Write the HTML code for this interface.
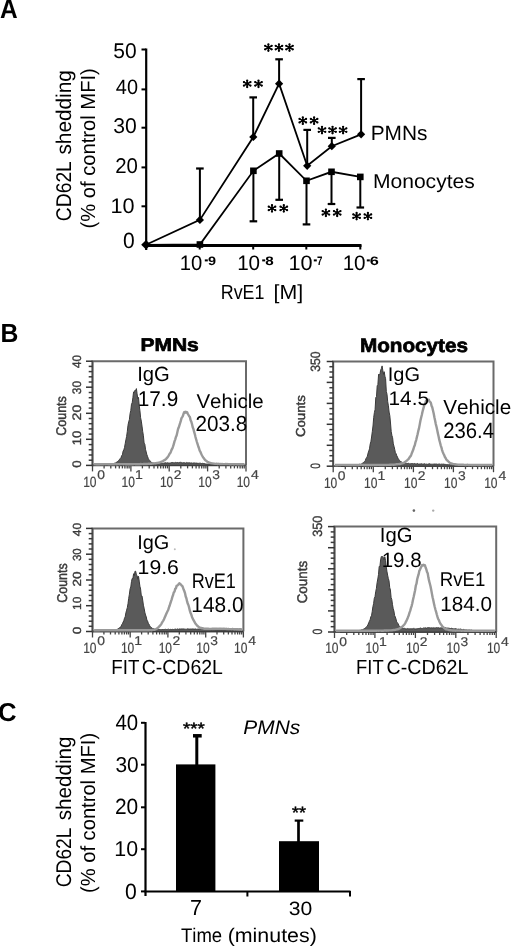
<!DOCTYPE html><html><head><meta charset="utf-8"><style>html,body{margin:0;padding:0;background:#fff;}body{width:520px;height:951px;overflow:hidden;position:relative;font-family:"Liberation Sans",sans-serif;}text{font-kerning:none;} svg{filter:grayscale(1) blur(0.3px);}</style></head><body><svg width="520" height="951" viewBox="0 0 520 951" style="position:absolute;left:0;top:0" font-family='"Liberation Sans", sans-serif' text-rendering="geometricPrecision">
<rect width="520" height="951" fill="#fff"/>
<text x="-0.07" y="17.80" font-size="26.74" font-weight="bold" font-style="normal" fill="#000" transform="translate(0.60 0) scale(0.9140 1) translate(-0.60 0)">A</text>
<text x="0.45" y="341.50" font-size="26.16" font-weight="bold" font-style="normal" fill="#000" transform="translate(2.20 0) scale(0.9464 1) translate(-2.20 0)">B</text>
<text x="-2.06" y="720.80" font-size="25.92" font-weight="bold" font-style="normal" fill="#000" transform="translate(-1.00 0) scale(0.9913 1) translate(1.00 0)">C</text>
<g stroke="#000" fill="none" stroke-linecap="butt">
<line x1="146.2" y1="48.5" x2="146.2" y2="250" stroke-width="2.2"/>
<line x1="145" y1="245.6" x2="361.5" y2="245.6" stroke-width="3"/>
<line x1="141.5" y1="49.5" x2="146" y2="49.5" stroke-width="2"/>
<line x1="141.5" y1="89.4" x2="146" y2="89.4" stroke-width="2"/>
<line x1="141.5" y1="127.7" x2="146" y2="127.7" stroke-width="2"/>
<line x1="141.5" y1="167.4" x2="146" y2="167.4" stroke-width="2"/>
<line x1="141.5" y1="206.3" x2="146" y2="206.3" stroke-width="2"/>
<line x1="199.7" y1="245" x2="199.7" y2="249.5" stroke-width="2"/>
<line x1="253.2" y1="245" x2="253.2" y2="249.5" stroke-width="2"/>
<line x1="306.3" y1="245" x2="306.3" y2="249.5" stroke-width="2"/>
<line x1="360.3" y1="245" x2="360.3" y2="249.5" stroke-width="2"/>
</g>
<text x="113.25" y="58.10" font-size="21.34" font-weight="normal" font-style="normal" fill="#000" transform="translate(114.10 0) scale(0.9842 1) translate(-114.10 0)">50</text>
<text x="115.83" y="93.80" font-size="20.62" font-weight="normal" font-style="normal" fill="#000" transform="translate(116.30 0) scale(0.9649 1) translate(-116.30 0)">40</text>
<text x="113.29" y="132.80" font-size="21.34" font-weight="normal" font-style="normal" fill="#000" transform="translate(114.10 0) scale(0.9914 1) translate(-114.10 0)">30</text>
<text x="115.23" y="172.70" font-size="21.34" font-weight="normal" font-style="normal" fill="#000" transform="translate(116.30 0) scale(0.9574 1) translate(-116.30 0)">20</text>
<text x="110.59" y="213.00" font-size="21.20" font-weight="normal" font-style="normal" fill="#000" transform="translate(112.20 0) scale(1.0221 1) translate(-112.20 0)">10</text>
<text x="122.89" y="247.70" font-size="22.06" font-weight="normal" font-style="normal" fill="#000" transform="translate(123.75 0) scale(0.9532 1) translate(-123.75 0)">0</text>
<text x="179.66" y="270.20" font-size="20.91" font-weight="normal" font-style="normal" fill="#000" transform="translate(181.25 0) scale(0.9665 1) translate(-181.25 0)">10</text>
<line x1="204.8" y1="260.4" x2="207.8" y2="260.4" stroke="#000" stroke-width="2"/>
<text x="207.98" y="264.80" font-size="12.17" font-weight="bold" font-style="normal" fill="#000" transform="translate(208.40 0) scale(1.1871 1) translate(-208.40 0)">9</text>
<text x="237.11" y="270.20" font-size="20.91" font-weight="normal" font-style="normal" fill="#000" transform="translate(238.70 0) scale(0.9881 1) translate(-238.70 0)">10</text>
<line x1="262.2" y1="260.4" x2="265.2" y2="260.4" stroke="#000" stroke-width="2"/>
<text x="265.41" y="264.80" font-size="12.17" font-weight="bold" font-style="normal" fill="#000" transform="translate(265.80 0) scale(1.2480 1) translate(-265.80 0)">8</text>
<text x="288.61" y="270.20" font-size="20.91" font-weight="normal" font-style="normal" fill="#000" transform="translate(290.20 0) scale(1.0361 1) translate(-290.20 0)">10</text>
<line x1="313.8" y1="260.4" x2="316.8" y2="260.4" stroke="#000" stroke-width="2"/>
<text x="316.87" y="264.80" font-size="12.35" font-weight="bold" font-style="normal" fill="#000" transform="translate(317.40 0) scale(0.7935 1) translate(-317.40 0)">7</text>
<text x="342.61" y="270.20" font-size="20.91" font-weight="normal" font-style="normal" fill="#000" transform="translate(344.20 0) scale(0.9881 1) translate(-344.20 0)">10</text>
<line x1="366.8" y1="260.4" x2="369.8" y2="260.4" stroke="#000" stroke-width="2"/>
<text x="369.95" y="264.80" font-size="12.17" font-weight="bold" font-style="normal" fill="#000" transform="translate(370.40 0) scale(1.3425 1) translate(-370.40 0)">6</text>
<text x="220.53" y="298.60" font-size="20.35" font-weight="normal" font-style="normal" fill="#000" transform="translate(222.20 0) scale(0.8790 1) translate(-222.20 0)">RvE1</text>
<text x="273.65" y="298.60" font-size="20.30" font-weight="normal" font-style="normal" fill="#000" transform="translate(275.10 0) scale(1.0516 1) translate(-275.10 0)">[M]</text>
<g transform="translate(70.90 220.20) rotate(-90)"><text x="-1.08" y="0.00" font-size="21.30" font-weight="normal" font-style="normal" fill="#000" transform="translate(0.00 0) scale(0.9052 1) translate(0.00 0)">CD62L</text></g>
<g transform="translate(70.90 154.00) rotate(-90)"><text x="-0.59" y="0.00" font-size="21.30" font-weight="normal" font-style="normal" fill="#000" transform="translate(0.00 0) scale(0.9764 1) translate(0.00 0)">shedding</text></g>
<g transform="translate(95.30 227.30) rotate(-90)"><text x="-1.27" y="0.00" font-size="20.42" font-weight="normal" font-style="normal" fill="#000" transform="translate(0.00 0) scale(0.9890 1) translate(0.00 0)">(% of control MFI)</text></g>
<text x="370.71" y="139.75" font-size="20.57" font-weight="normal" font-style="normal" fill="#000" transform="translate(372.40 0) scale(1.0148 1) translate(-372.40 0)">PMNs</text>
<text x="373.00" y="187.80" font-size="20.06" font-weight="normal" font-style="normal" fill="#000" transform="translate(374.65 0) scale(1.0510 1) translate(-374.65 0)">Monocytes</text>
<g stroke="#000" fill="none">
<polyline stroke-width="1.8" points="146,244.8 199.9,219.9 253.3,137 279.1,83.7 307.2,165.8 331.8,146.2 361.1,134.3"/>
<polyline stroke-width="1.8" points="146,244.8 199.9,244.5 253.4,170.8 279.2,153.5 306.5,180.8 331.5,171.8 360.3,176.9"/>
<line x1="199.9" y1="219.9" x2="199.9" y2="168.3" stroke-width="2"/>
<line x1="196.1" y1="168.5" x2="203.70000000000002" y2="168.5" stroke-width="2.2"/>
<line x1="253.2" y1="137" x2="253.2" y2="97.2" stroke-width="2"/>
<line x1="249.39999999999998" y1="97.4" x2="257.0" y2="97.4" stroke-width="2.2"/>
<line x1="279.1" y1="83.7" x2="279.1" y2="59.1" stroke-width="2"/>
<line x1="275.3" y1="59.300000000000004" x2="282.90000000000003" y2="59.300000000000004" stroke-width="2.2"/>
<line x1="307.2" y1="165.8" x2="307.2" y2="129.7" stroke-width="2"/>
<line x1="303.4" y1="129.89999999999998" x2="311.0" y2="129.89999999999998" stroke-width="2.2"/>
<line x1="331.8" y1="146.2" x2="331.8" y2="137.7" stroke-width="2"/>
<line x1="328.0" y1="137.89999999999998" x2="335.6" y2="137.89999999999998" stroke-width="2.2"/>
<line x1="361.1" y1="134.3" x2="361.1" y2="78.9" stroke-width="2"/>
<line x1="357.3" y1="79.10000000000001" x2="364.90000000000003" y2="79.10000000000001" stroke-width="2.2"/>
<line x1="253.4" y1="170.8" x2="253.4" y2="221.5" stroke-width="2"/>
<line x1="249.6" y1="221.3" x2="257.2" y2="221.3" stroke-width="2.2"/>
<line x1="279.2" y1="153.5" x2="279.2" y2="200" stroke-width="2"/>
<line x1="275.4" y1="199.8" x2="283.0" y2="199.8" stroke-width="2.2"/>
<line x1="306.5" y1="180.8" x2="306.5" y2="224.6" stroke-width="2"/>
<line x1="302.7" y1="224.4" x2="310.3" y2="224.4" stroke-width="2.2"/>
<line x1="331.5" y1="171.8" x2="331.5" y2="204.2" stroke-width="2"/>
<line x1="327.7" y1="204.0" x2="335.3" y2="204.0" stroke-width="2.2"/>
<line x1="360.3" y1="176.9" x2="360.3" y2="207.7" stroke-width="2"/>
<line x1="356.5" y1="207.5" x2="364.1" y2="207.5" stroke-width="2.2"/>
</g>
<g fill="#000">
<path d="M146 240.0 L150.8 244.8 L146 249.60000000000002 L141.2 244.8 Z"/>
<path d="M199.9 215.8 L204.0 219.9 L199.9 224.0 L195.8 219.9 Z"/>
<path d="M253.3 132.9 L257.40000000000003 137 L253.3 141.1 L249.20000000000002 137 Z"/>
<path d="M279.1 79.60000000000001 L283.20000000000005 83.7 L279.1 87.8 L275.0 83.7 Z"/>
<path d="M307.2 161.70000000000002 L311.3 165.8 L307.2 169.9 L303.09999999999997 165.8 Z"/>
<path d="M331.8 142.1 L335.90000000000003 146.2 L331.8 150.29999999999998 L327.7 146.2 Z"/>
<path d="M361.1 130.20000000000002 L365.20000000000005 134.3 L361.1 138.4 L357.0 134.3 Z"/>
<rect x="196.6" y="241.2" width="6.6" height="6.6"/>
<rect x="250.1" y="167.5" width="6.6" height="6.6"/>
<rect x="275.9" y="150.2" width="6.6" height="6.6"/>
<rect x="303.2" y="177.5" width="6.6" height="6.6"/>
<rect x="328.2" y="168.5" width="6.6" height="6.6"/>
<rect x="357.0" y="173.6" width="6.6" height="6.6"/>
</g>
<g stroke="#000" stroke-width="1.5" stroke-linecap="round" fill="none">
<path d="M247.20 80.65V87.05M243.95 82.10L250.45 85.60M243.95 85.60L250.45 82.10"/><circle cx="247.20" cy="80.65" r="1.15" fill="#000" stroke="none"/><circle cx="247.20" cy="87.05" r="1.15" fill="#000" stroke="none"/><circle cx="243.95" cy="82.10" r="1.15" fill="#000" stroke="none"/><circle cx="250.45" cy="85.60" r="1.15" fill="#000" stroke="none"/><circle cx="243.95" cy="85.60" r="1.15" fill="#000" stroke="none"/><circle cx="250.45" cy="82.10" r="1.15" fill="#000" stroke="none"/><circle cx="247.20" cy="83.85" r="1.8" fill="#000" stroke="none"/><path d="M258.50 80.65V87.05M255.25 82.10L261.75 85.60M255.25 85.60L261.75 82.10"/><circle cx="258.50" cy="80.65" r="1.15" fill="#000" stroke="none"/><circle cx="258.50" cy="87.05" r="1.15" fill="#000" stroke="none"/><circle cx="255.25" cy="82.10" r="1.15" fill="#000" stroke="none"/><circle cx="261.75" cy="85.60" r="1.15" fill="#000" stroke="none"/><circle cx="255.25" cy="85.60" r="1.15" fill="#000" stroke="none"/><circle cx="261.75" cy="82.10" r="1.15" fill="#000" stroke="none"/><circle cx="258.50" cy="83.85" r="1.8" fill="#000" stroke="none"/>
<path d="M268.40 44.40V50.80M265.15 45.85L271.65 49.35M265.15 49.35L271.65 45.85"/><circle cx="268.40" cy="44.40" r="1.15" fill="#000" stroke="none"/><circle cx="268.40" cy="50.80" r="1.15" fill="#000" stroke="none"/><circle cx="265.15" cy="45.85" r="1.15" fill="#000" stroke="none"/><circle cx="271.65" cy="49.35" r="1.15" fill="#000" stroke="none"/><circle cx="265.15" cy="49.35" r="1.15" fill="#000" stroke="none"/><circle cx="271.65" cy="45.85" r="1.15" fill="#000" stroke="none"/><circle cx="268.40" cy="47.60" r="1.8" fill="#000" stroke="none"/><path d="M278.95 44.40V50.80M275.70 45.85L282.20 49.35M275.70 49.35L282.20 45.85"/><circle cx="278.95" cy="44.40" r="1.15" fill="#000" stroke="none"/><circle cx="278.95" cy="50.80" r="1.15" fill="#000" stroke="none"/><circle cx="275.70" cy="45.85" r="1.15" fill="#000" stroke="none"/><circle cx="282.20" cy="49.35" r="1.15" fill="#000" stroke="none"/><circle cx="275.70" cy="49.35" r="1.15" fill="#000" stroke="none"/><circle cx="282.20" cy="45.85" r="1.15" fill="#000" stroke="none"/><circle cx="278.95" cy="47.60" r="1.8" fill="#000" stroke="none"/><path d="M289.50 44.40V50.80M286.25 45.85L292.75 49.35M286.25 49.35L292.75 45.85"/><circle cx="289.50" cy="44.40" r="1.15" fill="#000" stroke="none"/><circle cx="289.50" cy="50.80" r="1.15" fill="#000" stroke="none"/><circle cx="286.25" cy="45.85" r="1.15" fill="#000" stroke="none"/><circle cx="292.75" cy="49.35" r="1.15" fill="#000" stroke="none"/><circle cx="286.25" cy="49.35" r="1.15" fill="#000" stroke="none"/><circle cx="292.75" cy="45.85" r="1.15" fill="#000" stroke="none"/><circle cx="289.50" cy="47.60" r="1.8" fill="#000" stroke="none"/>
<path d="M302.80 117.50V123.90M299.55 118.95L306.05 122.45M299.55 122.45L306.05 118.95"/><circle cx="302.80" cy="117.50" r="1.15" fill="#000" stroke="none"/><circle cx="302.80" cy="123.90" r="1.15" fill="#000" stroke="none"/><circle cx="299.55" cy="118.95" r="1.15" fill="#000" stroke="none"/><circle cx="306.05" cy="122.45" r="1.15" fill="#000" stroke="none"/><circle cx="299.55" cy="122.45" r="1.15" fill="#000" stroke="none"/><circle cx="306.05" cy="118.95" r="1.15" fill="#000" stroke="none"/><circle cx="302.80" cy="120.70" r="1.8" fill="#000" stroke="none"/><path d="M314.10 117.50V123.90M310.85 118.95L317.35 122.45M310.85 122.45L317.35 118.95"/><circle cx="314.10" cy="117.50" r="1.15" fill="#000" stroke="none"/><circle cx="314.10" cy="123.90" r="1.15" fill="#000" stroke="none"/><circle cx="310.85" cy="118.95" r="1.15" fill="#000" stroke="none"/><circle cx="317.35" cy="122.45" r="1.15" fill="#000" stroke="none"/><circle cx="310.85" cy="122.45" r="1.15" fill="#000" stroke="none"/><circle cx="317.35" cy="118.95" r="1.15" fill="#000" stroke="none"/><circle cx="314.10" cy="120.70" r="1.8" fill="#000" stroke="none"/>
<path d="M322.00 126.85V133.25M318.75 128.30L325.25 131.80M318.75 131.80L325.25 128.30"/><circle cx="322.00" cy="126.85" r="1.15" fill="#000" stroke="none"/><circle cx="322.00" cy="133.25" r="1.15" fill="#000" stroke="none"/><circle cx="318.75" cy="128.30" r="1.15" fill="#000" stroke="none"/><circle cx="325.25" cy="131.80" r="1.15" fill="#000" stroke="none"/><circle cx="318.75" cy="131.80" r="1.15" fill="#000" stroke="none"/><circle cx="325.25" cy="128.30" r="1.15" fill="#000" stroke="none"/><circle cx="322.00" cy="130.05" r="1.8" fill="#000" stroke="none"/><path d="M332.55 126.85V133.25M329.30 128.30L335.80 131.80M329.30 131.80L335.80 128.30"/><circle cx="332.55" cy="126.85" r="1.15" fill="#000" stroke="none"/><circle cx="332.55" cy="133.25" r="1.15" fill="#000" stroke="none"/><circle cx="329.30" cy="128.30" r="1.15" fill="#000" stroke="none"/><circle cx="335.80" cy="131.80" r="1.15" fill="#000" stroke="none"/><circle cx="329.30" cy="131.80" r="1.15" fill="#000" stroke="none"/><circle cx="335.80" cy="128.30" r="1.15" fill="#000" stroke="none"/><circle cx="332.55" cy="130.05" r="1.8" fill="#000" stroke="none"/><path d="M343.10 126.85V133.25M339.85 128.30L346.35 131.80M339.85 131.80L346.35 128.30"/><circle cx="343.10" cy="126.85" r="1.15" fill="#000" stroke="none"/><circle cx="343.10" cy="133.25" r="1.15" fill="#000" stroke="none"/><circle cx="339.85" cy="128.30" r="1.15" fill="#000" stroke="none"/><circle cx="346.35" cy="131.80" r="1.15" fill="#000" stroke="none"/><circle cx="339.85" cy="131.80" r="1.15" fill="#000" stroke="none"/><circle cx="346.35" cy="128.30" r="1.15" fill="#000" stroke="none"/><circle cx="343.10" cy="130.05" r="1.8" fill="#000" stroke="none"/>
<path d="M272.00 205.20V211.60M268.75 206.65L275.25 210.15M268.75 210.15L275.25 206.65"/><circle cx="272.00" cy="205.20" r="1.15" fill="#000" stroke="none"/><circle cx="272.00" cy="211.60" r="1.15" fill="#000" stroke="none"/><circle cx="268.75" cy="206.65" r="1.15" fill="#000" stroke="none"/><circle cx="275.25" cy="210.15" r="1.15" fill="#000" stroke="none"/><circle cx="268.75" cy="210.15" r="1.15" fill="#000" stroke="none"/><circle cx="275.25" cy="206.65" r="1.15" fill="#000" stroke="none"/><circle cx="272.00" cy="208.40" r="1.8" fill="#000" stroke="none"/><path d="M283.80 205.20V211.60M280.55 206.65L287.05 210.15M280.55 210.15L287.05 206.65"/><circle cx="283.80" cy="205.20" r="1.15" fill="#000" stroke="none"/><circle cx="283.80" cy="211.60" r="1.15" fill="#000" stroke="none"/><circle cx="280.55" cy="206.65" r="1.15" fill="#000" stroke="none"/><circle cx="287.05" cy="210.15" r="1.15" fill="#000" stroke="none"/><circle cx="280.55" cy="210.15" r="1.15" fill="#000" stroke="none"/><circle cx="287.05" cy="206.65" r="1.15" fill="#000" stroke="none"/><circle cx="283.80" cy="208.40" r="1.8" fill="#000" stroke="none"/>
<path d="M325.90 209.60V216.00M322.65 211.05L329.15 214.55M322.65 214.55L329.15 211.05"/><circle cx="325.90" cy="209.60" r="1.15" fill="#000" stroke="none"/><circle cx="325.90" cy="216.00" r="1.15" fill="#000" stroke="none"/><circle cx="322.65" cy="211.05" r="1.15" fill="#000" stroke="none"/><circle cx="329.15" cy="214.55" r="1.15" fill="#000" stroke="none"/><circle cx="322.65" cy="214.55" r="1.15" fill="#000" stroke="none"/><circle cx="329.15" cy="211.05" r="1.15" fill="#000" stroke="none"/><circle cx="325.90" cy="212.80" r="1.8" fill="#000" stroke="none"/><path d="M337.20 209.60V216.00M333.95 211.05L340.45 214.55M333.95 214.55L340.45 211.05"/><circle cx="337.20" cy="209.60" r="1.15" fill="#000" stroke="none"/><circle cx="337.20" cy="216.00" r="1.15" fill="#000" stroke="none"/><circle cx="333.95" cy="211.05" r="1.15" fill="#000" stroke="none"/><circle cx="340.45" cy="214.55" r="1.15" fill="#000" stroke="none"/><circle cx="333.95" cy="214.55" r="1.15" fill="#000" stroke="none"/><circle cx="340.45" cy="211.05" r="1.15" fill="#000" stroke="none"/><circle cx="337.20" cy="212.80" r="1.8" fill="#000" stroke="none"/>
<path d="M356.60 212.95V219.35M353.35 214.40L359.85 217.90M353.35 217.90L359.85 214.40"/><circle cx="356.60" cy="212.95" r="1.15" fill="#000" stroke="none"/><circle cx="356.60" cy="219.35" r="1.15" fill="#000" stroke="none"/><circle cx="353.35" cy="214.40" r="1.15" fill="#000" stroke="none"/><circle cx="359.85" cy="217.90" r="1.15" fill="#000" stroke="none"/><circle cx="353.35" cy="217.90" r="1.15" fill="#000" stroke="none"/><circle cx="359.85" cy="214.40" r="1.15" fill="#000" stroke="none"/><circle cx="356.60" cy="216.15" r="1.8" fill="#000" stroke="none"/><path d="M367.90 212.95V219.35M364.65 214.40L371.15 217.90M364.65 217.90L371.15 214.40"/><circle cx="367.90" cy="212.95" r="1.15" fill="#000" stroke="none"/><circle cx="367.90" cy="219.35" r="1.15" fill="#000" stroke="none"/><circle cx="364.65" cy="214.40" r="1.15" fill="#000" stroke="none"/><circle cx="371.15" cy="217.90" r="1.15" fill="#000" stroke="none"/><circle cx="364.65" cy="217.90" r="1.15" fill="#000" stroke="none"/><circle cx="371.15" cy="214.40" r="1.15" fill="#000" stroke="none"/><circle cx="367.90" cy="216.15" r="1.8" fill="#000" stroke="none"/>
</g>
<path d="M92.5 465.4 V361.2 H246 V465.4" fill="none" stroke="#6a6a6a" stroke-width="2"/><line x1="92.5" y1="361.2" x2="92.5" y2="466.4" stroke="#4a4a4a" stroke-width="1.5"/><line x1="92.5" y1="465.4" x2="246" y2="465.4" stroke="#555" stroke-width="1.8"/><line x1="86.0" y1="465.4" x2="92.5" y2="465.4" stroke="#333" stroke-width="1.5"/><line x1="88.7" y1="460.2" x2="92.5" y2="460.2" stroke="#3a3a3a" stroke-width="1.5"/><line x1="88.7" y1="455.0" x2="92.5" y2="455.0" stroke="#3a3a3a" stroke-width="1.5"/><line x1="88.7" y1="449.8" x2="92.5" y2="449.8" stroke="#3a3a3a" stroke-width="1.5"/><line x1="88.7" y1="444.6" x2="92.5" y2="444.6" stroke="#3a3a3a" stroke-width="1.5"/><line x1="86.0" y1="439.3" x2="92.5" y2="439.3" stroke="#333" stroke-width="1.5"/><line x1="88.7" y1="434.1" x2="92.5" y2="434.1" stroke="#3a3a3a" stroke-width="1.5"/><line x1="88.7" y1="428.9" x2="92.5" y2="428.9" stroke="#3a3a3a" stroke-width="1.5"/><line x1="88.7" y1="423.7" x2="92.5" y2="423.7" stroke="#3a3a3a" stroke-width="1.5"/><line x1="88.7" y1="418.5" x2="92.5" y2="418.5" stroke="#3a3a3a" stroke-width="1.5"/><line x1="86.0" y1="413.3" x2="92.5" y2="413.3" stroke="#333" stroke-width="1.5"/><line x1="88.7" y1="408.1" x2="92.5" y2="408.1" stroke="#3a3a3a" stroke-width="1.5"/><line x1="88.7" y1="402.9" x2="92.5" y2="402.9" stroke="#3a3a3a" stroke-width="1.5"/><line x1="88.7" y1="397.7" x2="92.5" y2="397.7" stroke="#3a3a3a" stroke-width="1.5"/><line x1="88.7" y1="392.5" x2="92.5" y2="392.5" stroke="#3a3a3a" stroke-width="1.5"/><line x1="86.0" y1="387.2" x2="92.5" y2="387.2" stroke="#333" stroke-width="1.5"/><line x1="88.7" y1="382.0" x2="92.5" y2="382.0" stroke="#3a3a3a" stroke-width="1.5"/><line x1="88.7" y1="376.8" x2="92.5" y2="376.8" stroke="#3a3a3a" stroke-width="1.5"/><line x1="88.7" y1="371.6" x2="92.5" y2="371.6" stroke="#3a3a3a" stroke-width="1.5"/><line x1="88.7" y1="366.4" x2="92.5" y2="366.4" stroke="#3a3a3a" stroke-width="1.5"/><line x1="86.0" y1="361.2" x2="92.5" y2="361.2" stroke="#333" stroke-width="1.5"/><line x1="92.5" y1="465.4" x2="92.5" y2="471.4" stroke="#444" stroke-width="1.3"/><line x1="104.1" y1="465.4" x2="104.1" y2="468.4" stroke="#444" stroke-width="1.3"/><line x1="110.8" y1="465.4" x2="110.8" y2="468.4" stroke="#444" stroke-width="1.3"/><line x1="115.6" y1="465.4" x2="115.6" y2="468.4" stroke="#444" stroke-width="1.3"/><line x1="119.3" y1="465.4" x2="119.3" y2="468.4" stroke="#444" stroke-width="1.3"/><line x1="122.4" y1="465.4" x2="122.4" y2="468.4" stroke="#444" stroke-width="1.3"/><line x1="124.9" y1="465.4" x2="124.9" y2="468.4" stroke="#444" stroke-width="1.3"/><line x1="127.2" y1="465.4" x2="127.2" y2="468.4" stroke="#444" stroke-width="1.3"/><line x1="129.1" y1="465.4" x2="129.1" y2="468.4" stroke="#444" stroke-width="1.3"/><line x1="130.9" y1="465.4" x2="130.9" y2="471.4" stroke="#444" stroke-width="1.3"/><line x1="142.4" y1="465.4" x2="142.4" y2="468.4" stroke="#444" stroke-width="1.3"/><line x1="149.2" y1="465.4" x2="149.2" y2="468.4" stroke="#444" stroke-width="1.3"/><line x1="154.0" y1="465.4" x2="154.0" y2="468.4" stroke="#444" stroke-width="1.3"/><line x1="157.7" y1="465.4" x2="157.7" y2="468.4" stroke="#444" stroke-width="1.3"/><line x1="160.7" y1="465.4" x2="160.7" y2="468.4" stroke="#444" stroke-width="1.3"/><line x1="163.3" y1="465.4" x2="163.3" y2="468.4" stroke="#444" stroke-width="1.3"/><line x1="165.5" y1="465.4" x2="165.5" y2="468.4" stroke="#444" stroke-width="1.3"/><line x1="167.5" y1="465.4" x2="167.5" y2="468.4" stroke="#444" stroke-width="1.3"/><line x1="169.2" y1="465.4" x2="169.2" y2="471.4" stroke="#444" stroke-width="1.3"/><line x1="180.8" y1="465.4" x2="180.8" y2="468.4" stroke="#444" stroke-width="1.3"/><line x1="187.6" y1="465.4" x2="187.6" y2="468.4" stroke="#444" stroke-width="1.3"/><line x1="192.4" y1="465.4" x2="192.4" y2="468.4" stroke="#444" stroke-width="1.3"/><line x1="196.1" y1="465.4" x2="196.1" y2="468.4" stroke="#444" stroke-width="1.3"/><line x1="199.1" y1="465.4" x2="199.1" y2="468.4" stroke="#444" stroke-width="1.3"/><line x1="201.7" y1="465.4" x2="201.7" y2="468.4" stroke="#444" stroke-width="1.3"/><line x1="203.9" y1="465.4" x2="203.9" y2="468.4" stroke="#444" stroke-width="1.3"/><line x1="205.9" y1="465.4" x2="205.9" y2="468.4" stroke="#444" stroke-width="1.3"/><line x1="207.6" y1="465.4" x2="207.6" y2="471.4" stroke="#444" stroke-width="1.3"/><line x1="219.2" y1="465.4" x2="219.2" y2="468.4" stroke="#444" stroke-width="1.3"/><line x1="225.9" y1="465.4" x2="225.9" y2="468.4" stroke="#444" stroke-width="1.3"/><line x1="230.7" y1="465.4" x2="230.7" y2="468.4" stroke="#444" stroke-width="1.3"/><line x1="234.4" y1="465.4" x2="234.4" y2="468.4" stroke="#444" stroke-width="1.3"/><line x1="237.5" y1="465.4" x2="237.5" y2="468.4" stroke="#444" stroke-width="1.3"/><line x1="240.1" y1="465.4" x2="240.1" y2="468.4" stroke="#444" stroke-width="1.3"/><line x1="242.3" y1="465.4" x2="242.3" y2="468.4" stroke="#444" stroke-width="1.3"/><line x1="244.2" y1="465.4" x2="244.2" y2="468.4" stroke="#444" stroke-width="1.3"/><line x1="246" y1="465.4" x2="246" y2="471.4" stroke="#444" stroke-width="1.3"/><text x="82.98" y="486.80" font-size="14.75" font-weight="normal" font-style="normal" fill="#444" transform="translate(84.10 0) scale(0.8159 1) translate(-84.10 0)" stroke="#444" stroke-width="0.2">10</text><text x="97.21" y="479.00" font-size="12.60" font-weight="normal" font-style="normal" fill="#444" transform="translate(97.70 0) scale(1.1000 1) translate(-97.70 0)" stroke="#444" stroke-width="0.2">0</text><text x="121.35" y="486.80" font-size="14.75" font-weight="normal" font-style="normal" fill="#444" transform="translate(122.47 0) scale(0.8159 1) translate(-122.47 0)" stroke="#444" stroke-width="0.2">10</text><text x="135.10" y="479.00" font-size="12.79" font-weight="normal" font-style="normal" fill="#444" transform="translate(136.07 0) scale(1.1000 1) translate(-136.07 0)" stroke="#444" stroke-width="0.2">1</text><text x="159.73" y="486.80" font-size="14.75" font-weight="normal" font-style="normal" fill="#444" transform="translate(160.85 0) scale(0.8159 1) translate(-160.85 0)" stroke="#444" stroke-width="0.2">10</text><text x="173.82" y="479.00" font-size="12.60" font-weight="normal" font-style="normal" fill="#444" transform="translate(174.45 0) scale(1.1000 1) translate(-174.45 0)" stroke="#444" stroke-width="0.2">2</text><text x="198.10" y="486.80" font-size="14.75" font-weight="normal" font-style="normal" fill="#444" transform="translate(199.22 0) scale(0.8159 1) translate(-199.22 0)" stroke="#444" stroke-width="0.2">10</text><text x="212.34" y="479.00" font-size="12.60" font-weight="normal" font-style="normal" fill="#444" transform="translate(212.82 0) scale(1.1000 1) translate(-212.82 0)" stroke="#444" stroke-width="0.2">3</text><text x="236.48" y="486.80" font-size="14.75" font-weight="normal" font-style="normal" fill="#444" transform="translate(237.60 0) scale(0.8159 1) translate(-237.60 0)" stroke="#444" stroke-width="0.2">10</text><text x="250.91" y="479.00" font-size="12.79" font-weight="normal" font-style="normal" fill="#444" transform="translate(251.20 0) scale(1.1000 1) translate(-251.20 0)" stroke="#444" stroke-width="0.2">4</text>
<g transform="translate(80.50 467.30) rotate(-90)"><text x="-0.48" y="0.00" font-size="12.32" font-weight="normal" font-style="normal" fill="#3a3a3a" transform="translate(0.00 0) scale(1.0700 1) translate(0.00 0)" stroke="#3a3a3a" stroke-width="0.35">0</text></g><g transform="translate(80.50 444.30) rotate(-90)"><text x="-0.94" y="0.00" font-size="12.32" font-weight="normal" font-style="normal" fill="#3a3a3a" transform="translate(0.00 0) scale(1.0586 1) translate(0.00 0)" stroke="#3a3a3a" stroke-width="0.35">10</text></g><g transform="translate(80.50 419.70) rotate(-90)"><text x="-0.62" y="0.00" font-size="12.32" font-weight="normal" font-style="normal" fill="#3a3a3a" transform="translate(0.00 0) scale(1.1429 1) translate(0.00 0)" stroke="#3a3a3a" stroke-width="0.35">20</text></g><g transform="translate(80.50 393.70) rotate(-90)"><text x="-0.47" y="0.00" font-size="12.32" font-weight="normal" font-style="normal" fill="#3a3a3a" transform="translate(0.00 0) scale(0.9647 1) translate(0.00 0)" stroke="#3a3a3a" stroke-width="0.35">30</text></g><g transform="translate(80.50 367.80) rotate(-90)"><text x="-0.28" y="0.00" font-size="12.32" font-weight="normal" font-style="normal" fill="#3a3a3a" transform="translate(0.00 0) scale(0.9508 1) translate(0.00 0)" stroke="#3a3a3a" stroke-width="0.35">40</text></g>
<g transform="translate(65.50 435.20) rotate(-90)"><text x="-0.71" y="0.00" font-size="14.04" font-weight="normal" font-style="normal" fill="#3a3a3a" transform="translate(0.00 0) scale(0.8925 1) translate(0.00 0)" stroke="#3a3a3a" stroke-width="0.45">Counts</text></g>
<path d="M100.0 465.1 L100.7 465.0 L101.4 465.2 L102.1 464.9 L102.8 465.0 L103.5 464.9 L104.2 464.8 L104.9 464.9 L105.6 464.5 L106.3 464.5 L107.0 464.7 L107.7 464.4 L108.4 464.6 L109.1 464.3 L109.8 464.0 L110.5 463.9 L111.2 463.9 L111.9 463.7 L112.6 463.8 L113.3 463.7 L114.0 463.3 L114.7 463.2 L115.4 463.0 L116.1 462.6 L116.8 462.0 L117.5 461.5 L118.2 460.8 L118.9 460.7 L119.6 459.2 L120.3 458.4 L121.0 457.6 L121.7 455.6 L122.4 454.9 L123.1 451.1 L123.8 449.9 L124.5 447.6 L125.2 443.7 L125.9 439.9 L126.6 436.5 L127.3 431.5 L128.0 425.2 L128.7 421.9 L129.4 419.5 L130.1 413.4 L130.8 410.5 L131.5 404.2 L132.2 402.8 L132.9 397.6 L133.6 391.8 L134.3 392.7 L135.0 390.1 L135.7 390.5 L136.4 388.6 L137.1 393.9 L137.8 398.8 L138.5 397.4 L139.2 405.5 L139.9 410.5 L140.6 417.7 L141.3 421.1 L142.0 426.1 L142.7 431.4 L143.4 435.8 L144.1 443.1 L144.8 444.2 L145.5 449.3 L146.2 452.0 L146.9 454.8 L147.6 456.6 L148.3 458.5 L149.0 459.7 L149.7 460.4 L150.4 461.6 L151.1 462.0 L151.8 462.6 L152.5 462.9 L153.2 463.1 L153.9 463.1 L154.6 463.3 L155.3 463.3 L156.0 463.3 L156.7 463.6 L157.4 463.5 L158.1 463.1 L158.8 463.5 L159.5 463.2 L160.2 463.3 L160.9 463.4 L161.6 463.3 L162.3 463.3 L163.0 463.2 L163.7 463.2 L164.4 463.0 L165.1 462.7 L165.8 462.8 L166.5 463.0 L167.2 462.7 L167.9 462.9 L168.6 463.0 L169.3 463.1 L170.0 462.9 L170.7 462.9 L171.4 462.6 L172.1 462.4 L172.8 462.6 L173.5 462.7 L174.2 462.9 L174.9 462.6 L175.6 462.4 L176.3 462.7 L177.0 462.5 L177.7 462.5 L178.4 462.8 L179.1 462.4 L179.8 462.5 L180.5 462.3 L181.2 462.8 L181.9 462.4 L182.6 462.9 L183.3 462.7 L184.0 462.7 L184.7 462.8 L185.4 463.0 L186.1 463.0 L186.8 462.4 L187.5 462.8 L188.2 462.9 L188.9 462.7 L189.6 462.8 L190.3 463.0 L191.0 462.9 L191.7 462.9 L192.4 463.2 L193.1 462.9 L193.8 463.0 L194.5 462.9 L195.2 463.2 L195.9 463.0 L196.6 463.1 L197.3 463.3 L198.0 463.1 L198.7 463.4 L199.4 463.2 L200.1 463.3 L200.8 463.2 L201.5 463.5 L202.2 463.4 L202.9 463.3 L203.6 463.5 L204.3 463.6 L205.0 463.7 L205.7 464.0 L206.4 464.0 L207.1 464.1 L207.8 464.0 L208.5 463.9 L209.2 463.9 L209.9 463.9 L210.6 464.0 L211.3 464.3 L212.0 464.1 L212.7 464.4 L213.4 464.0 L214.1 464.4 L214.8 464.2 L215.5 464.5 L216.2 464.4 L216.9 464.5 L217.6 464.6 L218.3 464.6 L219.0 464.6 L219.7 464.6 L220.4 464.8 L221.1 464.6 L221.8 464.7 L222.5 464.7 L223.2 464.9 L223.9 464.7 L224.6 464.8 L225.3 464.8 L226.0 465.0 L226.7 464.9 L227.4 465.0 L228.1 464.8 L228.8 464.9 L229.5 464.9 L230.2 465.1 L230.9 465.2 L231.6 465.1 L232.3 465.1 L233.0 465.0 L233.7 464.9 L234.4 465.1 L235.1 465.0 L235.8 465.1 L236.5 465.1 L237.2 465.2 L237.9 465.0 L238.6 465.3 L239.3 465.2 L240.0 465.1 L240.7 465.3 L241.4 465.4 L242.1 465.2 L242.8 465.1 L243.5 465.2 L244.2 465.3 L244.9 465.4 L245.0 465.4 L100.0 465.4 Z" fill="#5a5a5a" stroke="#3a3a3a" stroke-width="1"/>
<path d="M94.0 464.1 L94.7 464.1 L95.4 464.1 L96.1 464.2 L96.8 464.2 L97.5 464.2 L98.2 464.2 L98.9 464.2 L99.6 464.2 L100.3 464.1 L101.0 464.2 L101.7 464.2 L102.4 464.2 L103.1 464.1 L103.8 464.2 L104.5 464.1 L105.2 464.1 L105.9 464.2 L106.6 464.1 L107.3 464.1 L108.0 464.2 L108.7 464.2 L109.4 464.2 L110.1 464.2 L110.8 464.2 L111.5 464.2 L112.2 464.2 L112.9 464.2 L113.6 464.2 L114.3 464.2 L115.0 464.1 L115.7 464.1 L116.4 464.2 L117.1 464.2 L117.8 464.1 L118.5 464.1 L119.2 464.1 L119.9 464.2 L120.6 464.1 L121.3 464.1 L122.0 464.1 L122.7 464.1 L123.4 464.2 L124.1 464.1 L124.8 464.1 L125.5 464.2 L126.2 464.2 L126.9 464.2 L127.6 464.1 L128.3 464.2 L129.0 464.2 L129.7 464.2 L130.4 464.1 L131.1 464.2 L131.8 464.1 L132.5 464.2 L133.2 464.2 L133.9 464.1 L134.6 464.1 L135.3 464.2 L136.0 464.1 L136.7 464.2 L137.4 464.1 L138.1 464.2 L138.8 464.1 L139.5 464.2 L140.2 464.2 L140.9 464.0 L141.6 464.1 L142.3 464.1 L143.0 464.1 L143.7 464.0 L144.4 464.0 L145.1 464.0 L145.8 464.0 L146.5 464.0 L147.2 464.0 L147.9 463.9 L148.6 463.8 L149.3 463.9 L150.0 463.8 L150.7 463.8 L151.4 463.7 L152.1 463.6 L152.8 463.6 L153.5 463.5 L154.2 463.4 L154.9 463.4 L155.6 463.2 L156.3 463.2 L157.0 463.0 L157.7 462.9 L158.4 462.7 L159.1 462.7 L159.8 462.3 L160.5 462.1 L161.2 461.8 L161.9 461.5 L162.6 461.4 L163.3 460.8 L164.0 460.3 L164.7 460.1 L165.4 459.4 L166.1 458.9 L166.8 458.1 L167.5 457.4 L168.2 456.3 L168.9 455.1 L169.6 453.8 L170.3 452.9 L171.0 451.4 L171.7 449.5 L172.4 448.4 L173.1 446.4 L173.8 444.2 L174.5 441.4 L175.2 439.6 L175.9 437.0 L176.6 435.4 L177.3 432.4 L178.0 429.2 L178.7 427.6 L179.4 425.3 L180.1 423.2 L180.8 420.9 L181.5 418.1 L182.2 417.1 L182.9 415.9 L183.6 413.6 L184.3 412.1 L185.0 412.7 L185.7 411.7 L186.4 412.6 L187.1 412.2 L187.8 413.8 L188.5 415.0 L189.2 416.3 L189.9 417.1 L190.6 420.2 L191.3 421.6 L192.0 424.1 L192.7 427.2 L193.4 428.9 L194.1 431.7 L194.8 434.1 L195.5 437.1 L196.2 439.5 L196.9 442.0 L197.6 444.2 L198.3 446.5 L199.0 448.2 L199.7 450.7 L200.4 451.8 L201.1 453.5 L201.8 455.0 L202.5 456.3 L203.2 457.4 L203.9 458.3 L204.6 459.4 L205.3 460.2 L206.0 460.6 L206.7 461.2 L207.4 461.8 L208.1 462.1 L208.8 462.6 L209.5 462.7 L210.2 463.0 L210.9 463.1 L211.6 463.4 L212.3 463.4 L213.0 463.5 L213.7 463.6 L214.4 463.6 L215.1 463.9 L215.8 463.9 L216.5 463.7 L217.2 464.0 L217.9 463.8 L218.6 463.9 L219.3 464.0 L220.0 464.1 L220.7 464.0 L221.4 464.1 L222.1 464.0 L222.8 464.1 L223.5 464.1 L224.2 464.1 L224.9 464.1 L225.6 464.0 L226.3 464.1 L227.0 464.0 L227.7 464.1 L228.4 464.1 L229.1 464.1 L229.8 464.2 L230.5 464.2 L231.2 464.2 L231.9 464.1 L232.6 464.1 L233.3 464.2 L234.0 464.2 L234.7 464.2 L235.4 464.1 L236.1 464.1 L236.8 464.2 L237.5 464.1 L238.2 464.2 L238.9 464.1 L239.6 464.2 L240.3 464.2 L241.0 464.2 L241.7 464.2 L242.4 464.2 L243.1 464.2 L243.8 464.2 L244.5 464.2" fill="none" stroke="#999999" stroke-width="2.4" stroke-linejoin="round"/>
<text x="140.57" y="351.30" font-size="18.46" font-weight="bold" font-style="normal" fill="#000" transform="translate(141.80 0) scale(1.1401 1) translate(-141.80 0)" stroke="#000" stroke-width="0.7">PMNs</text>
<text x="137.10" y="381.20" font-size="20.62" font-weight="normal" font-style="normal" fill="#000" transform="translate(139.00 0) scale(0.9800 1) translate(-139.00 0)">IgG</text>
<text x="137.67" y="406.20" font-size="21.34" font-weight="normal" font-style="normal" fill="#000" transform="translate(139.30 0) scale(0.9770 1) translate(-139.30 0)">17.9</text>
<text x="196.41" y="408.20" font-size="19.87" font-weight="normal" font-style="normal" fill="#000" transform="translate(196.50 0) scale(1.0326 1) translate(-196.50 0)">Vehicle</text>
<text x="195.41" y="431.30" font-size="21.77" font-weight="normal" font-style="normal" fill="#000" transform="translate(196.50 0) scale(0.9498 1) translate(-196.50 0)">203.8</text>
<path d="M333.2 466.2 V361.5 H493.5 V466.2" fill="none" stroke="#6a6a6a" stroke-width="2"/><line x1="333.2" y1="361.5" x2="333.2" y2="467.2" stroke="#4a4a4a" stroke-width="1.5"/><line x1="333.2" y1="466.2" x2="493.5" y2="466.2" stroke="#555" stroke-width="1.8"/><line x1="326.7" y1="466.2" x2="333.2" y2="466.2" stroke="#333" stroke-width="1.5"/><line x1="329.4" y1="461.0" x2="333.2" y2="461.0" stroke="#3a3a3a" stroke-width="1.5"/><line x1="329.4" y1="455.7" x2="333.2" y2="455.7" stroke="#3a3a3a" stroke-width="1.5"/><line x1="329.4" y1="450.5" x2="333.2" y2="450.5" stroke="#3a3a3a" stroke-width="1.5"/><line x1="326.7" y1="445.3" x2="333.2" y2="445.3" stroke="#333" stroke-width="1.5"/><line x1="329.4" y1="440.0" x2="333.2" y2="440.0" stroke="#3a3a3a" stroke-width="1.5"/><line x1="329.4" y1="434.8" x2="333.2" y2="434.8" stroke="#3a3a3a" stroke-width="1.5"/><line x1="329.4" y1="429.6" x2="333.2" y2="429.6" stroke="#3a3a3a" stroke-width="1.5"/><line x1="326.7" y1="424.3" x2="333.2" y2="424.3" stroke="#333" stroke-width="1.5"/><line x1="329.4" y1="419.1" x2="333.2" y2="419.1" stroke="#3a3a3a" stroke-width="1.5"/><line x1="329.4" y1="413.9" x2="333.2" y2="413.9" stroke="#3a3a3a" stroke-width="1.5"/><line x1="329.4" y1="408.6" x2="333.2" y2="408.6" stroke="#3a3a3a" stroke-width="1.5"/><line x1="326.7" y1="403.4" x2="333.2" y2="403.4" stroke="#333" stroke-width="1.5"/><line x1="329.4" y1="398.1" x2="333.2" y2="398.1" stroke="#3a3a3a" stroke-width="1.5"/><line x1="329.4" y1="392.9" x2="333.2" y2="392.9" stroke="#3a3a3a" stroke-width="1.5"/><line x1="329.4" y1="387.7" x2="333.2" y2="387.7" stroke="#3a3a3a" stroke-width="1.5"/><line x1="326.7" y1="382.4" x2="333.2" y2="382.4" stroke="#333" stroke-width="1.5"/><line x1="329.4" y1="377.2" x2="333.2" y2="377.2" stroke="#3a3a3a" stroke-width="1.5"/><line x1="329.4" y1="372.0" x2="333.2" y2="372.0" stroke="#3a3a3a" stroke-width="1.5"/><line x1="329.4" y1="366.7" x2="333.2" y2="366.7" stroke="#3a3a3a" stroke-width="1.5"/><line x1="326.7" y1="361.5" x2="333.2" y2="361.5" stroke="#333" stroke-width="1.5"/><line x1="333.2" y1="466.2" x2="333.2" y2="472.2" stroke="#444" stroke-width="1.3"/><line x1="345.3" y1="466.2" x2="345.3" y2="469.2" stroke="#444" stroke-width="1.3"/><line x1="352.3" y1="466.2" x2="352.3" y2="469.2" stroke="#444" stroke-width="1.3"/><line x1="357.3" y1="466.2" x2="357.3" y2="469.2" stroke="#444" stroke-width="1.3"/><line x1="361.2" y1="466.2" x2="361.2" y2="469.2" stroke="#444" stroke-width="1.3"/><line x1="364.4" y1="466.2" x2="364.4" y2="469.2" stroke="#444" stroke-width="1.3"/><line x1="367.1" y1="466.2" x2="367.1" y2="469.2" stroke="#444" stroke-width="1.3"/><line x1="369.4" y1="466.2" x2="369.4" y2="469.2" stroke="#444" stroke-width="1.3"/><line x1="371.4" y1="466.2" x2="371.4" y2="469.2" stroke="#444" stroke-width="1.3"/><line x1="373.3" y1="466.2" x2="373.3" y2="472.2" stroke="#444" stroke-width="1.3"/><line x1="385.3" y1="466.2" x2="385.3" y2="469.2" stroke="#444" stroke-width="1.3"/><line x1="392.4" y1="466.2" x2="392.4" y2="469.2" stroke="#444" stroke-width="1.3"/><line x1="397.4" y1="466.2" x2="397.4" y2="469.2" stroke="#444" stroke-width="1.3"/><line x1="401.3" y1="466.2" x2="401.3" y2="469.2" stroke="#444" stroke-width="1.3"/><line x1="404.5" y1="466.2" x2="404.5" y2="469.2" stroke="#444" stroke-width="1.3"/><line x1="407.1" y1="466.2" x2="407.1" y2="469.2" stroke="#444" stroke-width="1.3"/><line x1="409.5" y1="466.2" x2="409.5" y2="469.2" stroke="#444" stroke-width="1.3"/><line x1="411.5" y1="466.2" x2="411.5" y2="469.2" stroke="#444" stroke-width="1.3"/><line x1="413.4" y1="466.2" x2="413.4" y2="472.2" stroke="#444" stroke-width="1.3"/><line x1="425.4" y1="466.2" x2="425.4" y2="469.2" stroke="#444" stroke-width="1.3"/><line x1="432.5" y1="466.2" x2="432.5" y2="469.2" stroke="#444" stroke-width="1.3"/><line x1="437.5" y1="466.2" x2="437.5" y2="469.2" stroke="#444" stroke-width="1.3"/><line x1="441.4" y1="466.2" x2="441.4" y2="469.2" stroke="#444" stroke-width="1.3"/><line x1="444.5" y1="466.2" x2="444.5" y2="469.2" stroke="#444" stroke-width="1.3"/><line x1="447.2" y1="466.2" x2="447.2" y2="469.2" stroke="#444" stroke-width="1.3"/><line x1="449.5" y1="466.2" x2="449.5" y2="469.2" stroke="#444" stroke-width="1.3"/><line x1="451.6" y1="466.2" x2="451.6" y2="469.2" stroke="#444" stroke-width="1.3"/><line x1="453.4" y1="466.2" x2="453.4" y2="472.2" stroke="#444" stroke-width="1.3"/><line x1="465.5" y1="466.2" x2="465.5" y2="469.2" stroke="#444" stroke-width="1.3"/><line x1="472.5" y1="466.2" x2="472.5" y2="469.2" stroke="#444" stroke-width="1.3"/><line x1="477.6" y1="466.2" x2="477.6" y2="469.2" stroke="#444" stroke-width="1.3"/><line x1="481.4" y1="466.2" x2="481.4" y2="469.2" stroke="#444" stroke-width="1.3"/><line x1="484.6" y1="466.2" x2="484.6" y2="469.2" stroke="#444" stroke-width="1.3"/><line x1="487.3" y1="466.2" x2="487.3" y2="469.2" stroke="#444" stroke-width="1.3"/><line x1="489.6" y1="466.2" x2="489.6" y2="469.2" stroke="#444" stroke-width="1.3"/><line x1="491.7" y1="466.2" x2="491.7" y2="469.2" stroke="#444" stroke-width="1.3"/><line x1="493.5" y1="466.2" x2="493.5" y2="472.2" stroke="#444" stroke-width="1.3"/><text x="323.68" y="487.60" font-size="14.75" font-weight="normal" font-style="normal" fill="#444" transform="translate(324.80 0) scale(0.8159 1) translate(-324.80 0)" stroke="#444" stroke-width="0.2">10</text><text x="337.91" y="479.80" font-size="12.60" font-weight="normal" font-style="normal" fill="#444" transform="translate(338.40 0) scale(1.1000 1) translate(-338.40 0)" stroke="#444" stroke-width="0.2">0</text><text x="363.75" y="487.60" font-size="14.75" font-weight="normal" font-style="normal" fill="#444" transform="translate(364.88 0) scale(0.8159 1) translate(-364.88 0)" stroke="#444" stroke-width="0.2">10</text><text x="377.50" y="479.80" font-size="12.79" font-weight="normal" font-style="normal" fill="#444" transform="translate(378.47 0) scale(1.1000 1) translate(-378.47 0)" stroke="#444" stroke-width="0.2">1</text><text x="403.83" y="487.60" font-size="14.75" font-weight="normal" font-style="normal" fill="#444" transform="translate(404.95 0) scale(0.8159 1) translate(-404.95 0)" stroke="#444" stroke-width="0.2">10</text><text x="417.92" y="479.80" font-size="12.60" font-weight="normal" font-style="normal" fill="#444" transform="translate(418.55 0) scale(1.1000 1) translate(-418.55 0)" stroke="#444" stroke-width="0.2">2</text><text x="443.90" y="487.60" font-size="14.75" font-weight="normal" font-style="normal" fill="#444" transform="translate(445.03 0) scale(0.8159 1) translate(-445.03 0)" stroke="#444" stroke-width="0.2">10</text><text x="458.14" y="479.80" font-size="12.60" font-weight="normal" font-style="normal" fill="#444" transform="translate(458.62 0) scale(1.1000 1) translate(-458.62 0)" stroke="#444" stroke-width="0.2">3</text><text x="483.98" y="487.60" font-size="14.75" font-weight="normal" font-style="normal" fill="#444" transform="translate(485.10 0) scale(0.8159 1) translate(-485.10 0)" stroke="#444" stroke-width="0.2">10</text><text x="498.41" y="479.80" font-size="12.79" font-weight="normal" font-style="normal" fill="#444" transform="translate(498.70 0) scale(1.1000 1) translate(-498.70 0)" stroke="#444" stroke-width="0.2">4</text>
<g transform="translate(320.40 468.30) rotate(-90)"><text x="-0.53" y="0.00" font-size="13.46" font-weight="normal" font-style="normal" fill="#3a3a3a" transform="translate(0.00 0) scale(0.7614 1) translate(0.00 0)" stroke="#3a3a3a" stroke-width="0.35">0</text></g><g transform="translate(320.40 371.40) rotate(-90)"><text x="-0.51" y="0.00" font-size="13.46" font-weight="normal" font-style="normal" fill="#3a3a3a" transform="translate(0.00 0) scale(0.9056 1) translate(0.00 0)" stroke="#3a3a3a" stroke-width="0.35">350</text></g>
<g transform="translate(304.80 436.30) rotate(-90)"><text x="-0.66" y="0.00" font-size="13.03" font-weight="normal" font-style="normal" fill="#3a3a3a" transform="translate(0.00 0) scale(1.0109 1) translate(0.00 0)" stroke="#3a3a3a" stroke-width="0.45">Counts</text></g>
<path d="M338.0 466.1 L338.7 466.1 L339.4 466.1 L340.1 466.1 L340.8 466.0 L341.5 466.1 L342.2 465.9 L342.9 466.2 L343.6 465.8 L344.3 465.9 L345.0 466.1 L345.7 466.1 L346.4 466.0 L347.1 465.9 L347.8 465.7 L348.5 465.7 L349.2 465.7 L349.9 465.8 L350.6 465.4 L351.3 465.5 L352.0 465.6 L352.7 465.7 L353.4 465.4 L354.1 465.3 L354.8 465.1 L355.5 465.3 L356.2 465.0 L356.9 465.0 L357.6 464.9 L358.3 464.8 L359.0 464.7 L359.7 464.2 L360.4 464.4 L361.1 464.2 L361.8 463.7 L362.5 463.2 L363.2 462.7 L363.9 462.1 L364.6 461.5 L365.3 460.6 L366.0 458.5 L366.7 457.4 L367.4 456.2 L368.1 453.0 L368.8 451.0 L369.5 448.8 L370.2 444.1 L370.9 441.6 L371.6 437.0 L372.3 431.6 L373.0 426.0 L373.7 417.5 L374.4 412.5 L375.1 409.5 L375.8 397.5 L376.5 396.7 L377.2 385.8 L377.9 384.6 L378.6 374.2 L379.3 374.9 L380.0 373.9 L380.7 370.1 L381.4 368.5 L382.1 365.9 L382.8 370.4 L383.5 374.3 L384.2 371.7 L384.9 376.2 L385.6 378.7 L386.3 391.4 L387.0 394.2 L387.7 401.7 L388.4 405.8 L389.1 412.1 L389.8 415.6 L390.5 423.0 L391.2 431.5 L391.9 435.4 L392.6 437.7 L393.3 443.9 L394.0 446.3 L394.7 449.3 L395.4 452.8 L396.1 453.7 L396.8 455.8 L397.5 457.1 L398.2 458.9 L398.9 459.4 L399.6 460.5 L400.3 461.1 L401.0 461.8 L401.7 462.1 L402.4 462.5 L403.1 462.3 L403.8 462.8 L404.5 462.9 L405.2 463.0 L405.9 463.2 L406.6 463.4 L407.3 463.5 L408.0 463.4 L408.7 463.2 L409.4 463.9 L410.1 463.5 L410.8 463.9 L411.5 463.5 L412.2 463.5 L412.9 463.7 L413.6 463.8 L414.3 463.5 L415.0 463.7 L415.7 463.9 L416.4 463.9 L417.1 463.6 L417.8 463.6 L418.5 464.1 L419.2 464.0 L419.9 464.0 L420.6 463.9 L421.3 463.8 L422.0 463.8 L422.7 464.2 L423.4 464.1 L424.1 463.8 L424.8 463.8 L425.5 464.2 L426.2 464.2 L426.9 464.0 L427.6 464.3 L428.3 464.0 L429.0 463.9 L429.7 463.7 L430.4 464.1 L431.1 464.2 L431.8 464.2 L432.5 464.2 L433.2 464.2 L433.9 464.0 L434.6 464.0 L435.3 464.0 L436.0 464.3 L436.7 464.0 L437.4 464.3 L438.1 464.0 L438.8 464.2 L439.5 464.0 L440.2 464.2 L440.9 464.4 L441.6 464.1 L442.3 464.2 L443.0 464.2 L443.7 464.1 L444.4 464.3 L445.1 464.3 L445.8 464.5 L446.5 464.6 L447.2 464.4 L447.9 464.8 L448.6 464.7 L449.3 464.7 L450.0 464.5 L450.7 464.9 L451.4 464.6 L452.1 464.6 L452.8 464.7 L453.5 464.9 L454.2 464.9 L454.9 464.8 L455.6 464.9 L456.3 464.9 L457.0 465.0 L457.7 464.8 L458.4 464.9 L459.1 465.0 L459.8 465.2 L460.5 465.1 L461.2 465.3 L461.9 465.1 L462.6 465.1 L463.3 465.2 L464.0 465.4 L464.7 465.3 L465.4 465.1 L466.1 465.4 L466.8 465.4 L467.5 465.2 L468.2 465.5 L468.9 465.4 L469.6 465.6 L470.3 465.7 L471.0 465.7 L471.7 465.6 L472.4 465.5 L473.1 465.5 L473.8 465.6 L474.5 465.8 L475.2 465.7 L475.9 465.7 L476.6 465.8 L477.3 465.7 L478.0 465.7 L478.7 465.7 L479.4 465.9 L480.1 465.7 L480.8 465.9 L481.5 465.7 L482.2 465.7 L482.9 466.0 L483.6 465.8 L484.3 466.0 L485.0 465.9 L485.7 466.0 L486.4 465.9 L487.1 466.1 L487.8 465.8 L488.5 466.1 L489.2 465.9 L489.9 465.9 L490.6 466.2 L491.3 466.2 L492.0 466.0 L492.7 466.2 L493.0 466.2 L338.0 466.2 Z" fill="#5a5a5a" stroke="#3a3a3a" stroke-width="1"/>
<path d="M335.0 465.0 L335.7 464.9 L336.4 465.0 L337.1 465.0 L337.8 465.0 L338.5 465.0 L339.2 465.0 L339.9 465.0 L340.6 465.0 L341.3 464.9 L342.0 464.9 L342.7 464.9 L343.4 464.9 L344.1 464.9 L344.8 464.9 L345.5 465.0 L346.2 465.0 L346.9 465.0 L347.6 464.9 L348.3 465.0 L349.0 464.9 L349.7 465.0 L350.4 465.0 L351.1 465.0 L351.8 465.0 L352.5 465.0 L353.2 465.0 L353.9 465.0 L354.6 465.0 L355.3 465.0 L356.0 465.0 L356.7 464.9 L357.4 465.0 L358.1 464.9 L358.8 465.0 L359.5 464.9 L360.2 464.9 L360.9 464.9 L361.6 464.9 L362.3 464.9 L363.0 464.9 L363.7 465.0 L364.4 465.0 L365.1 464.9 L365.8 465.0 L366.5 464.9 L367.2 465.0 L367.9 465.0 L368.6 465.0 L369.3 465.0 L370.0 465.0 L370.7 464.9 L371.4 465.0 L372.1 465.0 L372.8 465.0 L373.5 464.9 L374.2 465.0 L374.9 464.9 L375.6 465.0 L376.3 465.0 L377.0 465.0 L377.7 464.9 L378.4 464.9 L379.1 465.0 L379.8 465.0 L380.5 465.0 L381.2 465.0 L381.9 465.0 L382.6 464.9 L383.3 465.0 L384.0 465.0 L384.7 464.9 L385.4 464.9 L386.1 465.0 L386.8 464.9 L387.5 464.9 L388.2 464.9 L388.9 464.9 L389.6 464.8 L390.3 464.6 L391.0 464.7 L391.7 464.6 L392.4 464.6 L393.1 464.7 L393.8 464.7 L394.5 464.6 L395.2 464.5 L395.9 464.4 L396.6 464.3 L397.3 464.2 L398.0 464.1 L398.7 464.1 L399.4 463.9 L400.1 464.0 L400.8 463.7 L401.5 463.5 L402.2 463.2 L402.9 463.2 L403.6 462.9 L404.3 462.6 L405.0 461.9 L405.7 461.4 L406.4 461.0 L407.1 460.4 L407.8 459.7 L408.5 459.1 L409.2 458.0 L409.9 456.9 L410.6 456.1 L411.3 454.7 L412.0 452.7 L412.7 451.0 L413.4 449.3 L414.1 446.8 L414.8 445.2 L415.5 442.1 L416.2 440.1 L416.9 437.1 L417.6 434.2 L418.3 430.9 L419.0 428.4 L419.7 424.6 L420.4 420.8 L421.1 417.7 L421.8 415.0 L422.5 411.8 L423.2 409.1 L423.9 406.6 L424.6 404.4 L425.3 403.4 L426.0 400.9 L426.7 400.2 L427.4 400.1 L428.1 400.4 L428.8 399.7 L429.5 401.7 L430.2 401.9 L430.9 402.9 L431.6 406.0 L432.3 407.4 L433.0 410.4 L433.7 413.5 L434.4 417.3 L435.1 420.5 L435.8 424.1 L436.5 426.8 L437.2 430.1 L437.9 433.5 L438.6 436.6 L439.3 439.9 L440.0 442.5 L440.7 445.3 L441.4 447.3 L442.1 450.1 L442.8 452.2 L443.5 453.7 L444.2 455.1 L444.9 457.0 L445.6 458.0 L446.3 459.4 L447.0 460.3 L447.7 460.8 L448.4 461.5 L449.1 462.3 L449.8 462.8 L450.5 463.2 L451.2 463.4 L451.9 463.8 L452.6 463.8 L453.3 464.1 L454.0 464.1 L454.7 464.2 L455.4 464.3 L456.1 464.6 L456.8 464.5 L457.5 464.6 L458.2 464.7 L458.9 464.7 L459.6 464.8 L460.3 464.7 L461.0 464.7 L461.7 464.7 L462.4 464.8 L463.1 464.7 L463.8 464.9 L464.5 464.9 L465.2 465.0 L465.9 465.0 L466.6 464.9 L467.3 464.8 L468.0 464.9 L468.7 465.0 L469.4 465.0 L470.1 464.9 L470.8 464.9 L471.5 465.0 L472.2 464.9 L472.9 465.0 L473.6 465.0 L474.3 464.9 L475.0 465.0 L475.7 465.0 L476.4 464.9 L477.1 464.9 L477.8 465.0 L478.5 464.9 L479.2 465.0 L479.9 464.9 L480.6 465.0 L481.3 465.0 L482.0 464.9 L482.7 465.0 L483.4 465.0 L484.1 464.9 L484.8 464.9 L485.5 465.0 L486.2 465.0 L486.9 465.0 L487.6 464.9 L488.3 465.0 L489.0 465.0 L489.7 465.0 L490.4 465.0 L491.1 465.0 L491.8 464.9 L492.5 465.0" fill="none" stroke="#999999" stroke-width="2.4" stroke-linejoin="round"/>
<text x="360.01" y="351.70" font-size="19.33" font-weight="bold" font-style="normal" fill="#000" transform="translate(361.30 0) scale(1.0709 1) translate(-361.30 0)" stroke="#000" stroke-width="0.7">Monocytes</text>
<text x="387.78" y="380.70" font-size="19.76" font-weight="normal" font-style="normal" fill="#000" transform="translate(389.60 0) scale(1.0121 1) translate(-389.60 0)">IgG</text>
<text x="388.61" y="405.20" font-size="19.62" font-weight="normal" font-style="normal" fill="#000" transform="translate(390.10 0) scale(1.0593 1) translate(-390.10 0)">14.5</text>
<text x="443.31" y="413.50" font-size="20.29" font-weight="normal" font-style="normal" fill="#000" transform="translate(443.40 0) scale(1.0207 1) translate(-443.40 0)">Vehicle</text>
<text x="443.09" y="438.10" font-size="22.06" font-weight="normal" font-style="normal" fill="#000" transform="translate(444.20 0) scale(0.9207 1) translate(-444.20 0)">236.4</text>
<path d="M92.5 631.5 V528.4 H243.4 V631.5" fill="none" stroke="#6a6a6a" stroke-width="2"/><line x1="92.5" y1="528.4" x2="92.5" y2="632.5" stroke="#4a4a4a" stroke-width="1.5"/><line x1="92.5" y1="631.5" x2="243.4" y2="631.5" stroke="#555" stroke-width="1.8"/><line x1="86.0" y1="631.5" x2="92.5" y2="631.5" stroke="#333" stroke-width="1.5"/><line x1="88.7" y1="626.3" x2="92.5" y2="626.3" stroke="#3a3a3a" stroke-width="1.5"/><line x1="88.7" y1="621.2" x2="92.5" y2="621.2" stroke="#3a3a3a" stroke-width="1.5"/><line x1="88.7" y1="616.0" x2="92.5" y2="616.0" stroke="#3a3a3a" stroke-width="1.5"/><line x1="88.7" y1="610.9" x2="92.5" y2="610.9" stroke="#3a3a3a" stroke-width="1.5"/><line x1="86.0" y1="605.7" x2="92.5" y2="605.7" stroke="#333" stroke-width="1.5"/><line x1="88.7" y1="600.6" x2="92.5" y2="600.6" stroke="#3a3a3a" stroke-width="1.5"/><line x1="88.7" y1="595.4" x2="92.5" y2="595.4" stroke="#3a3a3a" stroke-width="1.5"/><line x1="88.7" y1="590.3" x2="92.5" y2="590.3" stroke="#3a3a3a" stroke-width="1.5"/><line x1="88.7" y1="585.1" x2="92.5" y2="585.1" stroke="#3a3a3a" stroke-width="1.5"/><line x1="86.0" y1="580.0" x2="92.5" y2="580.0" stroke="#333" stroke-width="1.5"/><line x1="88.7" y1="574.8" x2="92.5" y2="574.8" stroke="#3a3a3a" stroke-width="1.5"/><line x1="88.7" y1="569.6" x2="92.5" y2="569.6" stroke="#3a3a3a" stroke-width="1.5"/><line x1="88.7" y1="564.5" x2="92.5" y2="564.5" stroke="#3a3a3a" stroke-width="1.5"/><line x1="88.7" y1="559.3" x2="92.5" y2="559.3" stroke="#3a3a3a" stroke-width="1.5"/><line x1="86.0" y1="554.2" x2="92.5" y2="554.2" stroke="#333" stroke-width="1.5"/><line x1="88.7" y1="549.0" x2="92.5" y2="549.0" stroke="#3a3a3a" stroke-width="1.5"/><line x1="88.7" y1="543.9" x2="92.5" y2="543.9" stroke="#3a3a3a" stroke-width="1.5"/><line x1="88.7" y1="538.7" x2="92.5" y2="538.7" stroke="#3a3a3a" stroke-width="1.5"/><line x1="88.7" y1="533.6" x2="92.5" y2="533.6" stroke="#3a3a3a" stroke-width="1.5"/><line x1="86.0" y1="528.4" x2="92.5" y2="528.4" stroke="#333" stroke-width="1.5"/><line x1="92.5" y1="631.5" x2="92.5" y2="637.5" stroke="#444" stroke-width="1.3"/><line x1="103.9" y1="631.5" x2="103.9" y2="634.5" stroke="#444" stroke-width="1.3"/><line x1="110.5" y1="631.5" x2="110.5" y2="634.5" stroke="#444" stroke-width="1.3"/><line x1="115.2" y1="631.5" x2="115.2" y2="634.5" stroke="#444" stroke-width="1.3"/><line x1="118.9" y1="631.5" x2="118.9" y2="634.5" stroke="#444" stroke-width="1.3"/><line x1="121.9" y1="631.5" x2="121.9" y2="634.5" stroke="#444" stroke-width="1.3"/><line x1="124.4" y1="631.5" x2="124.4" y2="634.5" stroke="#444" stroke-width="1.3"/><line x1="126.6" y1="631.5" x2="126.6" y2="634.5" stroke="#444" stroke-width="1.3"/><line x1="128.5" y1="631.5" x2="128.5" y2="634.5" stroke="#444" stroke-width="1.3"/><line x1="130.2" y1="631.5" x2="130.2" y2="637.5" stroke="#444" stroke-width="1.3"/><line x1="141.6" y1="631.5" x2="141.6" y2="634.5" stroke="#444" stroke-width="1.3"/><line x1="148.2" y1="631.5" x2="148.2" y2="634.5" stroke="#444" stroke-width="1.3"/><line x1="152.9" y1="631.5" x2="152.9" y2="634.5" stroke="#444" stroke-width="1.3"/><line x1="156.6" y1="631.5" x2="156.6" y2="634.5" stroke="#444" stroke-width="1.3"/><line x1="159.6" y1="631.5" x2="159.6" y2="634.5" stroke="#444" stroke-width="1.3"/><line x1="162.1" y1="631.5" x2="162.1" y2="634.5" stroke="#444" stroke-width="1.3"/><line x1="164.3" y1="631.5" x2="164.3" y2="634.5" stroke="#444" stroke-width="1.3"/><line x1="166.2" y1="631.5" x2="166.2" y2="634.5" stroke="#444" stroke-width="1.3"/><line x1="167.9" y1="631.5" x2="167.9" y2="637.5" stroke="#444" stroke-width="1.3"/><line x1="179.3" y1="631.5" x2="179.3" y2="634.5" stroke="#444" stroke-width="1.3"/><line x1="185.9" y1="631.5" x2="185.9" y2="634.5" stroke="#444" stroke-width="1.3"/><line x1="190.7" y1="631.5" x2="190.7" y2="634.5" stroke="#444" stroke-width="1.3"/><line x1="194.3" y1="631.5" x2="194.3" y2="634.5" stroke="#444" stroke-width="1.3"/><line x1="197.3" y1="631.5" x2="197.3" y2="634.5" stroke="#444" stroke-width="1.3"/><line x1="199.8" y1="631.5" x2="199.8" y2="634.5" stroke="#444" stroke-width="1.3"/><line x1="202.0" y1="631.5" x2="202.0" y2="634.5" stroke="#444" stroke-width="1.3"/><line x1="203.9" y1="631.5" x2="203.9" y2="634.5" stroke="#444" stroke-width="1.3"/><line x1="205.7" y1="631.5" x2="205.7" y2="637.5" stroke="#444" stroke-width="1.3"/><line x1="217.0" y1="631.5" x2="217.0" y2="634.5" stroke="#444" stroke-width="1.3"/><line x1="223.7" y1="631.5" x2="223.7" y2="634.5" stroke="#444" stroke-width="1.3"/><line x1="228.4" y1="631.5" x2="228.4" y2="634.5" stroke="#444" stroke-width="1.3"/><line x1="232.0" y1="631.5" x2="232.0" y2="634.5" stroke="#444" stroke-width="1.3"/><line x1="235.0" y1="631.5" x2="235.0" y2="634.5" stroke="#444" stroke-width="1.3"/><line x1="237.6" y1="631.5" x2="237.6" y2="634.5" stroke="#444" stroke-width="1.3"/><line x1="239.7" y1="631.5" x2="239.7" y2="634.5" stroke="#444" stroke-width="1.3"/><line x1="241.7" y1="631.5" x2="241.7" y2="634.5" stroke="#444" stroke-width="1.3"/><line x1="243.4" y1="631.5" x2="243.4" y2="637.5" stroke="#444" stroke-width="1.3"/><text x="82.98" y="652.90" font-size="14.75" font-weight="normal" font-style="normal" fill="#444" transform="translate(84.10 0) scale(0.8159 1) translate(-84.10 0)" stroke="#444" stroke-width="0.2">10</text><text x="97.21" y="645.10" font-size="12.60" font-weight="normal" font-style="normal" fill="#444" transform="translate(97.70 0) scale(1.1000 1) translate(-97.70 0)" stroke="#444" stroke-width="0.2">0</text><text x="120.70" y="652.90" font-size="14.75" font-weight="normal" font-style="normal" fill="#444" transform="translate(121.82 0) scale(0.8159 1) translate(-121.82 0)" stroke="#444" stroke-width="0.2">10</text><text x="134.45" y="645.10" font-size="12.79" font-weight="normal" font-style="normal" fill="#444" transform="translate(135.42 0) scale(1.1000 1) translate(-135.42 0)" stroke="#444" stroke-width="0.2">1</text><text x="158.43" y="652.90" font-size="14.75" font-weight="normal" font-style="normal" fill="#444" transform="translate(159.55 0) scale(0.8159 1) translate(-159.55 0)" stroke="#444" stroke-width="0.2">10</text><text x="172.52" y="645.10" font-size="12.60" font-weight="normal" font-style="normal" fill="#444" transform="translate(173.15 0) scale(1.1000 1) translate(-173.15 0)" stroke="#444" stroke-width="0.2">2</text><text x="196.15" y="652.90" font-size="14.75" font-weight="normal" font-style="normal" fill="#444" transform="translate(197.28 0) scale(0.8159 1) translate(-197.28 0)" stroke="#444" stroke-width="0.2">10</text><text x="210.40" y="645.10" font-size="12.60" font-weight="normal" font-style="normal" fill="#444" transform="translate(210.88 0) scale(1.1000 1) translate(-210.88 0)" stroke="#444" stroke-width="0.2">3</text><text x="233.88" y="652.90" font-size="14.75" font-weight="normal" font-style="normal" fill="#444" transform="translate(235.00 0) scale(0.8159 1) translate(-235.00 0)" stroke="#444" stroke-width="0.2">10</text><text x="248.31" y="645.10" font-size="12.79" font-weight="normal" font-style="normal" fill="#444" transform="translate(248.60 0) scale(1.1000 1) translate(-248.60 0)" stroke="#444" stroke-width="0.2">4</text>
<g transform="translate(80.50 633.70) rotate(-90)"><text x="-0.46" y="0.00" font-size="11.74" font-weight="normal" font-style="normal" fill="#3a3a3a" transform="translate(0.00 0) scale(1.1579 1) translate(0.00 0)" stroke="#3a3a3a" stroke-width="0.35">0</text></g><g transform="translate(80.50 609.10) rotate(-90)"><text x="-0.89" y="0.00" font-size="11.74" font-weight="normal" font-style="normal" fill="#3a3a3a" transform="translate(0.00 0) scale(1.0163 1) translate(0.00 0)" stroke="#3a3a3a" stroke-width="0.35">10</text></g><g transform="translate(80.50 585.80) rotate(-90)"><text x="-0.59" y="0.00" font-size="11.74" font-weight="normal" font-style="normal" fill="#3a3a3a" transform="translate(0.00 0) scale(1.1571 1) translate(0.00 0)" stroke="#3a3a3a" stroke-width="0.35">20</text></g><g transform="translate(80.50 560.60) rotate(-90)"><text x="-0.45" y="0.00" font-size="11.74" font-weight="normal" font-style="normal" fill="#3a3a3a" transform="translate(0.00 0) scale(0.9789 1) translate(0.00 0)" stroke="#3a3a3a" stroke-width="0.35">30</text></g><g transform="translate(80.50 536.00) rotate(-90)"><text x="-0.27" y="0.00" font-size="11.74" font-weight="normal" font-style="normal" fill="#3a3a3a" transform="translate(0.00 0) scale(1.0215 1) translate(0.00 0)" stroke="#3a3a3a" stroke-width="0.35">40</text></g>
<g transform="translate(66.90 602.20) rotate(-90)"><text x="-0.72" y="0.00" font-size="14.18" font-weight="normal" font-style="normal" fill="#3a3a3a" transform="translate(0.00 0) scale(0.8812 1) translate(0.00 0)" stroke="#3a3a3a" stroke-width="0.45">Counts</text></g>
<path d="M100.0 631.2 L100.7 631.3 L101.4 631.1 L102.1 631.2 L102.8 631.3 L103.5 631.2 L104.2 631.3 L104.9 631.1 L105.6 631.2 L106.3 630.8 L107.0 630.8 L107.7 631.0 L108.4 631.0 L109.1 630.8 L109.8 630.6 L110.5 630.4 L111.2 630.5 L111.9 630.5 L112.6 630.6 L113.3 630.3 L114.0 630.2 L114.7 629.7 L115.4 629.7 L116.1 629.5 L116.8 629.5 L117.5 629.2 L118.2 628.5 L118.9 628.4 L119.6 627.9 L120.3 627.0 L121.0 626.8 L121.7 624.7 L122.4 623.9 L123.1 622.1 L123.8 620.8 L124.5 618.2 L125.2 616.9 L125.9 612.8 L126.6 610.2 L127.3 607.7 L128.0 603.7 L128.7 598.4 L129.4 594.2 L130.1 588.9 L130.8 587.0 L131.5 581.4 L132.2 578.5 L132.9 578.6 L133.6 573.7 L134.3 575.7 L135.0 571.2 L135.7 571.3 L136.4 574.9 L137.1 575.5 L137.8 579.2 L138.5 576.3 L139.2 581.1 L139.9 586.2 L140.6 589.1 L141.3 595.8 L142.0 595.9 L142.7 600.1 L143.4 605.2 L144.1 608.2 L144.8 612.2 L145.5 615.0 L146.2 616.6 L146.9 620.1 L147.6 621.1 L148.3 623.3 L149.0 624.2 L149.7 625.7 L150.4 627.0 L151.1 627.5 L151.8 627.7 L152.5 628.4 L153.2 628.6 L153.9 628.9 L154.6 629.2 L155.3 629.1 L156.0 629.5 L156.7 629.1 L157.4 629.2 L158.1 629.6 L158.8 629.4 L159.5 629.5 L160.2 629.5 L160.9 629.8 L161.6 629.6 L162.3 629.5 L163.0 629.5 L163.7 629.6 L164.4 629.5 L165.1 629.2 L165.8 629.4 L166.5 629.5 L167.2 629.4 L167.9 629.4 L168.6 629.2 L169.3 629.7 L170.0 629.3 L170.7 629.4 L171.4 629.6 L172.1 629.3 L172.8 629.4 L173.5 629.5 L174.2 629.4 L174.9 629.2 L175.6 629.1 L176.3 629.4 L177.0 629.2 L177.7 628.9 L178.4 629.3 L179.1 629.0 L179.8 628.9 L180.5 629.0 L181.2 628.9 L181.9 628.9 L182.6 628.9 L183.3 629.0 L184.0 628.7 L184.7 629.2 L185.4 629.2 L186.1 629.2 L186.8 629.2 L187.5 628.8 L188.2 629.0 L188.9 628.9 L189.6 629.1 L190.3 629.0 L191.0 629.1 L191.7 629.0 L192.4 628.9 L193.1 629.0 L193.8 629.0 L194.5 629.1 L195.2 628.9 L195.9 629.0 L196.6 629.3 L197.3 629.2 L198.0 628.9 L198.7 629.1 L199.4 628.9 L200.1 629.3 L200.8 629.2 L201.5 629.3 L202.2 629.3 L202.9 629.4 L203.6 629.1 L204.3 629.5 L205.0 629.1 L205.7 629.5 L206.4 629.5 L207.1 629.5 L207.8 629.2 L208.5 629.2 L209.2 629.5 L209.9 629.4 L210.6 629.4 L211.3 629.8 L212.0 629.5 L212.7 629.6 L213.4 629.7 L214.1 629.8 L214.8 629.7 L215.5 629.9 L216.2 629.9 L216.9 629.9 L217.6 630.1 L218.3 630.0 L219.0 629.8 L219.7 630.2 L220.4 629.9 L221.1 630.0 L221.8 630.0 L222.5 630.0 L223.2 630.4 L223.9 630.2 L224.6 630.3 L225.3 630.2 L226.0 630.2 L226.7 630.1 L227.4 630.5 L228.1 630.2 L228.8 630.2 L229.5 630.4 L230.2 630.3 L230.9 630.7 L231.6 630.5 L232.3 630.5 L233.0 630.7 L233.7 630.6 L234.4 630.8 L235.1 630.6 L235.8 630.6 L236.5 630.8 L237.2 630.8 L237.9 630.8 L238.6 630.9 L239.3 631.1 L240.0 630.8 L240.7 630.9 L241.4 631.1 L242.1 630.9 L242.8 630.9 L243.0 631.5 L100.0 631.5 Z" fill="#5a5a5a" stroke="#3a3a3a" stroke-width="1"/>
<path d="M94.0 630.2 L94.7 630.3 L95.4 630.3 L96.1 630.3 L96.8 630.3 L97.5 630.3 L98.2 630.3 L98.9 630.3 L99.6 630.2 L100.3 630.3 L101.0 630.3 L101.7 630.3 L102.4 630.3 L103.1 630.3 L103.8 630.3 L104.5 630.3 L105.2 630.2 L105.9 630.3 L106.6 630.3 L107.3 630.3 L108.0 630.3 L108.7 630.3 L109.4 630.3 L110.1 630.2 L110.8 630.3 L111.5 630.3 L112.2 630.3 L112.9 630.3 L113.6 630.2 L114.3 630.3 L115.0 630.2 L115.7 630.2 L116.4 630.2 L117.1 630.3 L117.8 630.2 L118.5 630.2 L119.2 630.2 L119.9 630.2 L120.6 630.3 L121.3 630.3 L122.0 630.3 L122.7 630.3 L123.4 630.2 L124.1 630.3 L124.8 630.3 L125.5 630.2 L126.2 630.3 L126.9 630.3 L127.6 630.2 L128.3 630.2 L129.0 630.3 L129.7 630.2 L130.4 630.3 L131.1 630.3 L131.8 630.3 L132.5 630.2 L133.2 630.3 L133.9 630.3 L134.6 630.3 L135.3 630.3 L136.0 630.3 L136.7 630.3 L137.4 630.3 L138.1 630.3 L138.8 630.2 L139.5 630.2 L140.2 630.2 L140.9 630.3 L141.6 630.3 L142.3 630.3 L143.0 630.3 L143.7 630.3 L144.4 630.2 L145.1 630.2 L145.8 630.3 L146.5 630.2 L147.2 630.3 L147.9 630.3 L148.6 630.1 L149.3 630.2 L150.0 630.1 L150.7 630.1 L151.4 630.2 L152.1 630.1 L152.8 629.9 L153.5 629.9 L154.2 629.8 L154.9 629.5 L155.6 629.3 L156.3 629.0 L157.0 628.4 L157.7 627.9 L158.4 627.5 L159.1 626.6 L159.8 625.9 L160.5 625.0 L161.2 624.3 L161.9 622.8 L162.6 621.6 L163.3 620.6 L164.0 619.2 L164.7 617.6 L165.4 616.0 L166.1 614.3 L166.8 612.7 L167.5 611.3 L168.2 610.0 L168.9 607.6 L169.6 605.8 L170.3 603.5 L171.0 601.4 L171.7 599.4 L172.4 596.7 L173.1 595.0 L173.8 592.3 L174.5 591.7 L175.2 588.8 L175.9 588.4 L176.6 585.9 L177.3 585.5 L178.0 584.9 L178.7 584.1 L179.4 583.2 L180.1 584.1 L180.8 584.3 L181.5 585.5 L182.2 585.9 L182.9 587.3 L183.6 589.5 L184.3 591.0 L185.0 593.1 L185.7 596.5 L186.4 598.3 L187.1 601.4 L187.8 603.8 L188.5 605.3 L189.2 607.9 L189.9 610.9 L190.6 613.0 L191.3 614.6 L192.0 616.9 L192.7 618.4 L193.4 619.9 L194.1 621.2 L194.8 622.4 L195.5 623.7 L196.2 624.3 L196.9 625.4 L197.6 626.0 L198.3 626.6 L199.0 627.2 L199.7 627.4 L200.4 627.9 L201.1 627.9 L201.8 628.3 L202.5 628.2 L203.2 628.4 L203.9 628.7 L204.6 628.6 L205.3 628.7 L206.0 628.8 L206.7 628.6 L207.4 628.7 L208.1 628.7 L208.8 628.9 L209.5 628.9 L210.2 628.9 L210.9 628.9 L211.6 628.9 L212.3 628.7 L213.0 628.8 L213.7 628.7 L214.4 628.7 L215.1 628.8 L215.8 628.7 L216.5 628.7 L217.2 628.9 L217.9 628.8 L218.6 628.9 L219.3 628.7 L220.0 628.9 L220.7 628.7 L221.4 628.9 L222.1 628.8 L222.8 628.9 L223.5 628.8 L224.2 628.8 L224.9 628.9 L225.6 628.9 L226.3 628.8 L227.0 629.0 L227.7 629.1 L228.4 628.9 L229.1 629.1 L229.8 629.1 L230.5 629.1 L231.2 629.1 L231.9 629.2 L232.6 629.0 L233.3 629.1 L234.0 629.2 L234.7 629.1 L235.4 629.4 L236.1 629.3 L236.8 629.3 L237.5 629.3 L238.2 629.4 L238.9 629.3 L239.6 629.3 L240.3 629.3 L241.0 629.3 L241.7 629.6 L242.4 629.4" fill="none" stroke="#999999" stroke-width="2.4" stroke-linejoin="round"/>
<text x="137.16" y="549.20" font-size="19.91" font-weight="normal" font-style="normal" fill="#000">IgG</text>
<text x="137.73" y="573.75" font-size="19.98" font-weight="normal" font-style="normal" fill="#000" transform="translate(139.25 0) scale(1.0621 1) translate(-139.25 0)">19.6</text>
<text x="191.48" y="587.60" font-size="20.93" font-weight="normal" font-style="normal" fill="#000" transform="translate(193.20 0) scale(0.8629 1) translate(-193.20 0)">RvE1</text>
<text x="191.26" y="612.40" font-size="21.48" font-weight="normal" font-style="normal" fill="#000" transform="translate(192.90 0) scale(0.9730 1) translate(-192.90 0)">148.0</text>
<text x="111.13" y="674.00" font-size="20.35" font-weight="normal" font-style="normal" fill="#000" transform="translate(112.80 0) scale(0.9233 1) translate(-112.80 0)">FIT</text>
<text x="141.77" y="674.00" font-size="20.30" font-weight="normal" font-style="normal" fill="#000" transform="translate(142.80 0) scale(0.9589 1) translate(-142.80 0)">C-CD62L</text>
<path d="M334.5 632 V526.6 H496.2 V632" fill="none" stroke="#6a6a6a" stroke-width="2"/><line x1="334.5" y1="526.6" x2="334.5" y2="633" stroke="#4a4a4a" stroke-width="1.5"/><line x1="334.5" y1="632" x2="496.2" y2="632" stroke="#555" stroke-width="1.8"/><line x1="328.0" y1="632.0" x2="334.5" y2="632.0" stroke="#333" stroke-width="1.5"/><line x1="330.7" y1="626.7" x2="334.5" y2="626.7" stroke="#3a3a3a" stroke-width="1.5"/><line x1="330.7" y1="621.5" x2="334.5" y2="621.5" stroke="#3a3a3a" stroke-width="1.5"/><line x1="330.7" y1="616.2" x2="334.5" y2="616.2" stroke="#3a3a3a" stroke-width="1.5"/><line x1="328.0" y1="610.9" x2="334.5" y2="610.9" stroke="#333" stroke-width="1.5"/><line x1="330.7" y1="605.6" x2="334.5" y2="605.6" stroke="#3a3a3a" stroke-width="1.5"/><line x1="330.7" y1="600.4" x2="334.5" y2="600.4" stroke="#3a3a3a" stroke-width="1.5"/><line x1="330.7" y1="595.1" x2="334.5" y2="595.1" stroke="#3a3a3a" stroke-width="1.5"/><line x1="328.0" y1="589.8" x2="334.5" y2="589.8" stroke="#333" stroke-width="1.5"/><line x1="330.7" y1="584.6" x2="334.5" y2="584.6" stroke="#3a3a3a" stroke-width="1.5"/><line x1="330.7" y1="579.3" x2="334.5" y2="579.3" stroke="#3a3a3a" stroke-width="1.5"/><line x1="330.7" y1="574.0" x2="334.5" y2="574.0" stroke="#3a3a3a" stroke-width="1.5"/><line x1="328.0" y1="568.8" x2="334.5" y2="568.8" stroke="#333" stroke-width="1.5"/><line x1="330.7" y1="563.5" x2="334.5" y2="563.5" stroke="#3a3a3a" stroke-width="1.5"/><line x1="330.7" y1="558.2" x2="334.5" y2="558.2" stroke="#3a3a3a" stroke-width="1.5"/><line x1="330.7" y1="553.0" x2="334.5" y2="553.0" stroke="#3a3a3a" stroke-width="1.5"/><line x1="328.0" y1="547.7" x2="334.5" y2="547.7" stroke="#333" stroke-width="1.5"/><line x1="330.7" y1="542.4" x2="334.5" y2="542.4" stroke="#3a3a3a" stroke-width="1.5"/><line x1="330.7" y1="537.1" x2="334.5" y2="537.1" stroke="#3a3a3a" stroke-width="1.5"/><line x1="330.7" y1="531.9" x2="334.5" y2="531.9" stroke="#3a3a3a" stroke-width="1.5"/><line x1="328.0" y1="526.6" x2="334.5" y2="526.6" stroke="#333" stroke-width="1.5"/><line x1="334.5" y1="632" x2="334.5" y2="638" stroke="#444" stroke-width="1.3"/><line x1="346.7" y1="632" x2="346.7" y2="635" stroke="#444" stroke-width="1.3"/><line x1="353.8" y1="632" x2="353.8" y2="635" stroke="#444" stroke-width="1.3"/><line x1="358.8" y1="632" x2="358.8" y2="635" stroke="#444" stroke-width="1.3"/><line x1="362.8" y1="632" x2="362.8" y2="635" stroke="#444" stroke-width="1.3"/><line x1="366.0" y1="632" x2="366.0" y2="635" stroke="#444" stroke-width="1.3"/><line x1="368.7" y1="632" x2="368.7" y2="635" stroke="#444" stroke-width="1.3"/><line x1="371.0" y1="632" x2="371.0" y2="635" stroke="#444" stroke-width="1.3"/><line x1="373.1" y1="632" x2="373.1" y2="635" stroke="#444" stroke-width="1.3"/><line x1="374.9" y1="632" x2="374.9" y2="638" stroke="#444" stroke-width="1.3"/><line x1="387.1" y1="632" x2="387.1" y2="635" stroke="#444" stroke-width="1.3"/><line x1="394.2" y1="632" x2="394.2" y2="635" stroke="#444" stroke-width="1.3"/><line x1="399.3" y1="632" x2="399.3" y2="635" stroke="#444" stroke-width="1.3"/><line x1="403.2" y1="632" x2="403.2" y2="635" stroke="#444" stroke-width="1.3"/><line x1="406.4" y1="632" x2="406.4" y2="635" stroke="#444" stroke-width="1.3"/><line x1="409.1" y1="632" x2="409.1" y2="635" stroke="#444" stroke-width="1.3"/><line x1="411.4" y1="632" x2="411.4" y2="635" stroke="#444" stroke-width="1.3"/><line x1="413.5" y1="632" x2="413.5" y2="635" stroke="#444" stroke-width="1.3"/><line x1="415.4" y1="632" x2="415.4" y2="638" stroke="#444" stroke-width="1.3"/><line x1="427.5" y1="632" x2="427.5" y2="635" stroke="#444" stroke-width="1.3"/><line x1="434.6" y1="632" x2="434.6" y2="635" stroke="#444" stroke-width="1.3"/><line x1="439.7" y1="632" x2="439.7" y2="635" stroke="#444" stroke-width="1.3"/><line x1="443.6" y1="632" x2="443.6" y2="635" stroke="#444" stroke-width="1.3"/><line x1="446.8" y1="632" x2="446.8" y2="635" stroke="#444" stroke-width="1.3"/><line x1="449.5" y1="632" x2="449.5" y2="635" stroke="#444" stroke-width="1.3"/><line x1="451.9" y1="632" x2="451.9" y2="635" stroke="#444" stroke-width="1.3"/><line x1="453.9" y1="632" x2="453.9" y2="635" stroke="#444" stroke-width="1.3"/><line x1="455.8" y1="632" x2="455.8" y2="638" stroke="#444" stroke-width="1.3"/><line x1="467.9" y1="632" x2="467.9" y2="635" stroke="#444" stroke-width="1.3"/><line x1="475.1" y1="632" x2="475.1" y2="635" stroke="#444" stroke-width="1.3"/><line x1="480.1" y1="632" x2="480.1" y2="635" stroke="#444" stroke-width="1.3"/><line x1="484.0" y1="632" x2="484.0" y2="635" stroke="#444" stroke-width="1.3"/><line x1="487.2" y1="632" x2="487.2" y2="635" stroke="#444" stroke-width="1.3"/><line x1="489.9" y1="632" x2="489.9" y2="635" stroke="#444" stroke-width="1.3"/><line x1="492.3" y1="632" x2="492.3" y2="635" stroke="#444" stroke-width="1.3"/><line x1="494.4" y1="632" x2="494.4" y2="635" stroke="#444" stroke-width="1.3"/><line x1="496.2" y1="632" x2="496.2" y2="638" stroke="#444" stroke-width="1.3"/><text x="324.98" y="653.40" font-size="14.75" font-weight="normal" font-style="normal" fill="#444" transform="translate(326.10 0) scale(0.8159 1) translate(-326.10 0)" stroke="#444" stroke-width="0.2">10</text><text x="339.21" y="645.60" font-size="12.60" font-weight="normal" font-style="normal" fill="#444" transform="translate(339.70 0) scale(1.1000 1) translate(-339.70 0)" stroke="#444" stroke-width="0.2">0</text><text x="365.40" y="653.40" font-size="14.75" font-weight="normal" font-style="normal" fill="#444" transform="translate(366.53 0) scale(0.8159 1) translate(-366.53 0)" stroke="#444" stroke-width="0.2">10</text><text x="379.15" y="645.60" font-size="12.79" font-weight="normal" font-style="normal" fill="#444" transform="translate(380.12 0) scale(1.1000 1) translate(-380.12 0)" stroke="#444" stroke-width="0.2">1</text><text x="405.83" y="653.40" font-size="14.75" font-weight="normal" font-style="normal" fill="#444" transform="translate(406.95 0) scale(0.8159 1) translate(-406.95 0)" stroke="#444" stroke-width="0.2">10</text><text x="419.92" y="645.60" font-size="12.60" font-weight="normal" font-style="normal" fill="#444" transform="translate(420.55 0) scale(1.1000 1) translate(-420.55 0)" stroke="#444" stroke-width="0.2">2</text><text x="446.25" y="653.40" font-size="14.75" font-weight="normal" font-style="normal" fill="#444" transform="translate(447.38 0) scale(0.8159 1) translate(-447.38 0)" stroke="#444" stroke-width="0.2">10</text><text x="460.49" y="645.60" font-size="12.60" font-weight="normal" font-style="normal" fill="#444" transform="translate(460.97 0) scale(1.1000 1) translate(-460.97 0)" stroke="#444" stroke-width="0.2">3</text><text x="486.68" y="653.40" font-size="14.75" font-weight="normal" font-style="normal" fill="#444" transform="translate(487.80 0) scale(0.8159 1) translate(-487.80 0)" stroke="#444" stroke-width="0.2">10</text><text x="501.11" y="645.60" font-size="12.79" font-weight="normal" font-style="normal" fill="#444" transform="translate(501.40 0) scale(1.1000 1) translate(-501.40 0)" stroke="#444" stroke-width="0.2">4</text>
<g transform="translate(322.00 634.10) rotate(-90)"><text x="-0.52" y="0.00" font-size="13.32" font-weight="normal" font-style="normal" fill="#3a3a3a" transform="translate(0.00 0) scale(0.7853 1) translate(0.00 0)" stroke="#3a3a3a" stroke-width="0.35">0</text></g><g transform="translate(322.00 536.40) rotate(-90)"><text x="-0.51" y="0.00" font-size="13.32" font-weight="normal" font-style="normal" fill="#3a3a3a" transform="translate(0.00 0) scale(0.9483 1) translate(0.00 0)" stroke="#3a3a3a" stroke-width="0.35">350</text></g>
<g transform="translate(306.80 602.70) rotate(-90)"><text x="-0.71" y="0.00" font-size="14.04" font-weight="normal" font-style="normal" fill="#3a3a3a" transform="translate(0.00 0) scale(0.9549 1) translate(0.00 0)" stroke="#3a3a3a" stroke-width="0.45">Counts</text></g>
<path d="M340.0 632.0 L340.7 631.8 L341.4 632.0 L342.1 631.8 L342.8 631.8 L343.5 631.9 L344.2 631.8 L344.9 631.6 L345.6 631.9 L346.3 631.7 L347.0 631.8 L347.7 631.5 L348.4 631.7 L349.1 631.5 L349.8 631.4 L350.5 631.6 L351.2 631.2 L351.9 631.3 L352.6 631.2 L353.3 631.1 L354.0 631.3 L354.7 631.2 L355.4 631.1 L356.1 631.0 L356.8 630.7 L357.5 630.5 L358.2 630.5 L358.9 630.7 L359.6 630.4 L360.3 630.4 L361.0 630.0 L361.7 629.8 L362.4 629.8 L363.1 629.2 L363.8 629.1 L364.5 628.5 L365.2 628.0 L365.9 627.7 L366.6 626.6 L367.3 626.2 L368.0 624.5 L368.7 622.9 L369.4 621.2 L370.1 619.9 L370.8 616.8 L371.5 615.8 L372.2 611.7 L372.9 606.7 L373.6 603.7 L374.3 598.3 L375.0 596.8 L375.7 591.8 L376.4 588.4 L377.1 582.7 L377.8 579.0 L378.5 574.5 L379.2 566.4 L379.9 566.7 L380.6 560.0 L381.3 556.5 L382.0 556.9 L382.7 556.5 L383.4 557.5 L384.1 559.9 L384.8 556.8 L385.5 560.3 L386.2 566.6 L386.9 571.2 L387.6 575.1 L388.3 578.4 L389.0 580.8 L389.7 587.4 L390.4 590.0 L391.1 597.5 L391.8 599.5 L392.5 604.7 L393.2 608.6 L393.9 611.0 L394.6 615.4 L395.3 617.0 L396.0 619.1 L396.7 621.9 L397.4 622.7 L398.1 623.7 L398.8 625.5 L399.5 626.3 L400.2 626.8 L400.9 627.8 L401.6 627.5 L402.3 627.8 L403.0 628.2 L403.7 628.5 L404.4 628.3 L405.1 628.7 L405.8 628.8 L406.5 628.9 L407.2 628.5 L407.9 628.8 L408.6 628.8 L409.3 628.8 L410.0 629.0 L410.7 628.7 L411.4 628.8 L412.1 628.7 L412.8 628.8 L413.5 628.4 L414.2 629.0 L414.9 628.4 L415.6 629.0 L416.3 628.9 L417.0 628.6 L417.7 628.7 L418.4 628.5 L419.1 628.5 L419.8 628.3 L420.5 628.0 L421.2 628.3 L421.9 628.6 L422.6 628.4 L423.3 627.9 L424.0 628.3 L424.7 627.9 L425.4 627.8 L426.1 628.1 L426.8 628.1 L427.5 627.7 L428.2 627.6 L428.9 627.8 L429.6 627.7 L430.3 628.1 L431.0 627.6 L431.7 627.9 L432.4 628.0 L433.1 627.6 L433.8 628.0 L434.5 627.9 L435.2 627.8 L435.9 628.1 L436.6 627.6 L437.3 627.8 L438.0 627.8 L438.7 627.7 L439.4 628.1 L440.1 627.8 L440.8 627.9 L441.5 627.8 L442.2 628.2 L442.9 628.0 L443.6 627.8 L444.3 628.1 L445.0 627.9 L445.7 627.7 L446.4 628.0 L447.1 628.2 L447.8 628.0 L448.5 628.2 L449.2 627.9 L449.9 628.7 L450.6 628.6 L451.3 628.3 L452.0 628.3 L452.7 628.7 L453.4 628.8 L454.1 628.9 L454.8 628.7 L455.5 628.6 L456.2 628.9 L456.9 628.9 L457.6 629.3 L458.3 629.2 L459.0 629.0 L459.7 629.3 L460.4 629.0 L461.1 629.3 L461.8 629.5 L462.5 629.8 L463.2 629.3 L463.9 629.8 L464.6 629.8 L465.3 630.0 L466.0 629.7 L466.7 630.0 L467.4 630.1 L468.1 630.3 L468.8 629.9 L469.5 630.0 L470.2 630.2 L470.9 630.2 L471.6 630.1 L472.3 630.5 L473.0 630.3 L473.7 630.7 L474.4 630.6 L475.1 630.6 L475.8 630.7 L476.5 630.9 L477.2 630.7 L477.9 630.9 L478.6 631.0 L479.3 631.1 L480.0 630.9 L480.7 630.8 L481.4 631.0 L482.1 631.2 L482.8 631.0 L483.5 631.3 L484.2 631.1 L484.9 631.3 L485.6 631.3 L486.3 631.3 L487.0 631.4 L487.7 631.3 L488.4 631.6 L489.1 631.3 L489.8 631.6 L490.5 631.6 L491.2 631.7 L491.9 631.6 L492.6 631.4 L493.3 631.6 L494.0 631.7 L494.7 631.5 L495.4 631.6 L496.0 632.0 L340.0 632.0 Z" fill="#5a5a5a" stroke="#3a3a3a" stroke-width="1"/>
<path d="M336.0 630.8 L336.7 630.8 L337.4 630.7 L338.1 630.8 L338.8 630.8 L339.5 630.7 L340.2 630.8 L340.9 630.8 L341.6 630.8 L342.3 630.8 L343.0 630.7 L343.7 630.7 L344.4 630.8 L345.1 630.8 L345.8 630.7 L346.5 630.8 L347.2 630.7 L347.9 630.8 L348.6 630.8 L349.3 630.8 L350.0 630.8 L350.7 630.8 L351.4 630.7 L352.1 630.8 L352.8 630.8 L353.5 630.8 L354.2 630.8 L354.9 630.8 L355.6 630.8 L356.3 630.8 L357.0 630.7 L357.7 630.8 L358.4 630.8 L359.1 630.8 L359.8 630.8 L360.5 630.8 L361.2 630.7 L361.9 630.8 L362.6 630.8 L363.3 630.8 L364.0 630.7 L364.7 630.8 L365.4 630.8 L366.1 630.7 L366.8 630.8 L367.5 630.7 L368.2 630.8 L368.9 630.7 L369.6 630.8 L370.3 630.7 L371.0 630.7 L371.7 630.7 L372.4 630.7 L373.1 630.7 L373.8 630.7 L374.5 630.7 L375.2 630.8 L375.9 630.7 L376.6 630.8 L377.3 630.6 L378.0 630.6 L378.7 630.7 L379.4 630.6 L380.1 630.6 L380.8 630.6 L381.5 630.7 L382.2 630.8 L382.9 630.6 L383.6 630.7 L384.3 630.5 L385.0 630.5 L385.7 630.5 L386.4 630.7 L387.1 630.4 L387.8 630.5 L388.5 630.5 L389.2 630.4 L389.9 630.4 L390.6 630.4 L391.3 630.4 L392.0 630.3 L392.7 630.1 L393.4 630.0 L394.1 630.1 L394.8 629.9 L395.5 629.8 L396.2 629.5 L396.9 629.4 L397.6 629.3 L398.3 629.0 L399.0 628.8 L399.7 628.4 L400.4 627.8 L401.1 627.4 L401.8 626.9 L402.5 626.6 L403.2 625.7 L403.9 625.0 L404.6 624.2 L405.3 623.1 L406.0 621.6 L406.7 620.2 L407.4 618.8 L408.1 616.9 L408.8 615.2 L409.5 612.6 L410.2 610.9 L410.9 608.2 L411.6 606.1 L412.3 603.3 L413.0 599.7 L413.7 596.8 L414.4 593.4 L415.1 590.2 L415.8 585.7 L416.5 583.7 L417.2 579.2 L417.9 576.6 L418.6 574.4 L419.3 570.9 L420.0 569.6 L420.7 568.0 L421.4 566.5 L422.1 565.0 L422.8 565.6 L423.5 564.8 L424.2 565.3 L424.9 565.2 L425.6 567.5 L426.3 569.2 L427.0 571.9 L427.7 573.3 L428.4 577.6 L429.1 580.9 L429.8 583.5 L430.5 586.2 L431.2 589.7 L431.9 593.6 L432.6 597.3 L433.3 600.3 L434.0 603.7 L434.7 606.8 L435.4 609.5 L436.1 611.8 L436.8 614.5 L437.5 616.9 L438.2 619.0 L438.9 620.2 L439.6 622.0 L440.3 623.4 L441.0 624.5 L441.7 625.3 L442.4 626.5 L443.1 627.0 L443.8 627.8 L444.5 628.3 L445.2 628.7 L445.9 629.2 L446.6 629.3 L447.3 629.5 L448.0 629.7 L448.7 630.0 L449.4 630.1 L450.1 630.2 L450.8 630.2 L451.5 630.4 L452.2 630.5 L452.9 630.4 L453.6 630.5 L454.3 630.5 L455.0 630.6 L455.7 630.7 L456.4 630.5 L457.1 630.5 L457.8 630.6 L458.5 630.6 L459.2 630.6 L459.9 630.5 L460.6 630.6 L461.3 630.7 L462.0 630.7 L462.7 630.6 L463.4 630.6 L464.1 630.7 L464.8 630.7 L465.5 630.8 L466.2 630.7 L466.9 630.8 L467.6 630.8 L468.3 630.7 L469.0 630.7 L469.7 630.8 L470.4 630.7 L471.1 630.7 L471.8 630.8 L472.5 630.8 L473.2 630.8 L473.9 630.8 L474.6 630.7 L475.3 630.8 L476.0 630.7 L476.7 630.8 L477.4 630.8 L478.1 630.8 L478.8 630.8 L479.5 630.8 L480.2 630.8 L480.9 630.8 L481.6 630.8 L482.3 630.8 L483.0 630.8 L483.7 630.7 L484.4 630.7 L485.1 630.8 L485.8 630.7 L486.5 630.7 L487.2 630.8 L487.9 630.7 L488.6 630.7 L489.3 630.8 L490.0 630.8 L490.7 630.8 L491.4 630.8 L492.1 630.8 L492.8 630.8 L493.5 630.7 L494.2 630.8 L494.9 630.8" fill="none" stroke="#999999" stroke-width="2.4" stroke-linejoin="round"/>
<text x="379.80" y="542.20" font-size="20.62" font-weight="normal" font-style="normal" fill="#000" transform="translate(381.70 0) scale(0.9833 1) translate(-381.70 0)">IgG</text>
<text x="381.63" y="566.70" font-size="20.62" font-weight="normal" font-style="normal" fill="#000" transform="translate(383.20 0) scale(0.9954 1) translate(-383.20 0)">19.8</text>
<text x="439.62" y="585.60" font-size="19.91" font-weight="normal" font-style="normal" fill="#000" transform="translate(441.25 0) scale(0.9363 1) translate(-441.25 0)">RvE1</text>
<text x="440.33" y="610.60" font-size="20.55" font-weight="normal" font-style="normal" fill="#000" transform="translate(441.90 0) scale(1.0059 1) translate(-441.90 0)">184.0</text>
<text x="355.93" y="674.20" font-size="20.35" font-weight="normal" font-style="normal" fill="#000" transform="translate(357.60 0) scale(0.9056 1) translate(-357.60 0)">FIT</text>
<text x="386.57" y="674.20" font-size="20.30" font-weight="normal" font-style="normal" fill="#000" transform="translate(387.60 0) scale(0.9674 1) translate(-387.60 0)">C-CD62L</text>
<g stroke="#000" fill="none">
<line x1="145.5" y1="722" x2="145.5" y2="896" stroke-width="2.2"/>
<line x1="144.5" y1="891.4" x2="350.5" y2="891.4" stroke-width="2"/>
<line x1="141" y1="722.8" x2="145" y2="722.8" stroke-width="2"/>
<line x1="141" y1="764.7" x2="145" y2="764.7" stroke-width="2"/>
<line x1="141" y1="807.3" x2="145" y2="807.3" stroke-width="2"/>
<line x1="141" y1="849.2" x2="145" y2="849.2" stroke-width="2"/>
<line x1="141" y1="891.4" x2="145" y2="891.4" stroke-width="2"/>
<line x1="247.4" y1="891" x2="247.4" y2="896.5" stroke-width="2"/>
<line x1="350" y1="891" x2="350" y2="896.5" stroke-width="2"/>
<line x1="196.8" y1="765" x2="196.8" y2="735.5" stroke-width="3"/>
<path d="M193 735.8 H201.7" stroke-width="3.5"/>
<line x1="298.5" y1="842" x2="298.5" y2="820.5" stroke-width="2.7"/>
<path d="M294.7 820.6 H303.3" stroke-width="2.2"/>
</g>
<rect x="176" y="764.4" width="39.4" height="127" fill="#000"/>
<rect x="279" y="841.2" width="40" height="50.2" fill="#000"/>
<text x="115.49" y="729.80" font-size="22.06" font-weight="normal" font-style="normal" fill="#000" transform="translate(116.00 0) scale(0.9238 1) translate(-116.00 0)">40</text>
<text x="115.43" y="772.20" font-size="21.48" font-weight="normal" font-style="normal" fill="#000" transform="translate(116.25 0) scale(0.9736 1) translate(-116.25 0)">30</text>
<text x="114.89" y="814.20" font-size="22.06" font-weight="normal" font-style="normal" fill="#000" transform="translate(116.00 0) scale(0.9485 1) translate(-116.00 0)">20</text>
<text x="114.37" y="856.20" font-size="21.41" font-weight="normal" font-style="normal" fill="#000">10</text>
<text x="125.04" y="898.50" font-size="22.06" font-weight="normal" font-style="normal" fill="#000" transform="translate(125.90 0) scale(0.9580 1) translate(-125.90 0)">0</text>
<text x="183.04" y="734.45" font-size="16.35" font-weight="normal" font-style="normal" fill="#000" transform="translate(183.30 0) scale(1.1361 1) translate(-183.30 0)" stroke="#000" stroke-width="0.5">***</text>
<text x="292.14" y="818.25" font-size="16.35" font-weight="normal" font-style="normal" fill="#000" transform="translate(292.40 0) scale(1.0894 1) translate(-292.40 0)" stroke="#000" stroke-width="0.5">**</text>
<text x="243.40" y="734.20" font-size="19.62" font-weight="normal" font-style="italic" fill="#000" transform="translate(244.00 0) scale(1.0666 1) translate(-244.00 0)">PMNs</text>
<text x="189.88" y="915.20" font-size="21.80" font-weight="normal" font-style="normal" fill="#000" transform="translate(191.00 0) scale(0.9888 1) translate(-191.00 0)">7</text>
<text x="288.87" y="914.60" font-size="19.19" font-weight="normal" font-style="normal" fill="#000" transform="translate(289.60 0) scale(1.1024 1) translate(-289.60 0)">30</text>
<text x="180.96" y="941.50" font-size="19.80" font-weight="normal" font-style="normal" fill="#000" transform="translate(181.40 0) scale(0.9373 1) translate(-181.40 0)">Time</text>
<text x="227.77" y="941.50" font-size="19.80" font-weight="normal" font-style="normal" fill="#000" transform="translate(229.00 0) scale(1.0817 1) translate(-229.00 0)">(minutes)</text>
<g transform="translate(70.90 886.40) rotate(-90)"><text x="-1.08" y="0.00" font-size="21.30" font-weight="normal" font-style="normal" fill="#000" transform="translate(0.00 0) scale(0.9021 1) translate(0.00 0)">CD62L</text></g>
<g transform="translate(70.90 819.80) rotate(-90)"><text x="-0.59" y="0.00" font-size="21.30" font-weight="normal" font-style="normal" fill="#000" transform="translate(0.00 0) scale(0.9705 1) translate(0.00 0)">shedding</text></g>
<g transform="translate(95.30 891.80) rotate(-90)"><text x="-1.27" y="0.00" font-size="20.42" font-weight="normal" font-style="normal" fill="#000" transform="translate(0.00 0) scale(0.9877 1) translate(0.00 0)">(% of control MFI)</text></g>
<circle cx="413.9" cy="510.6" r="1.3" fill="#666"/><circle cx="433.2" cy="510.6" r="1.2" fill="#aaa"/><circle cx="174.8" cy="549.2" r="1" fill="#bbb"/>
</svg></body></html>
